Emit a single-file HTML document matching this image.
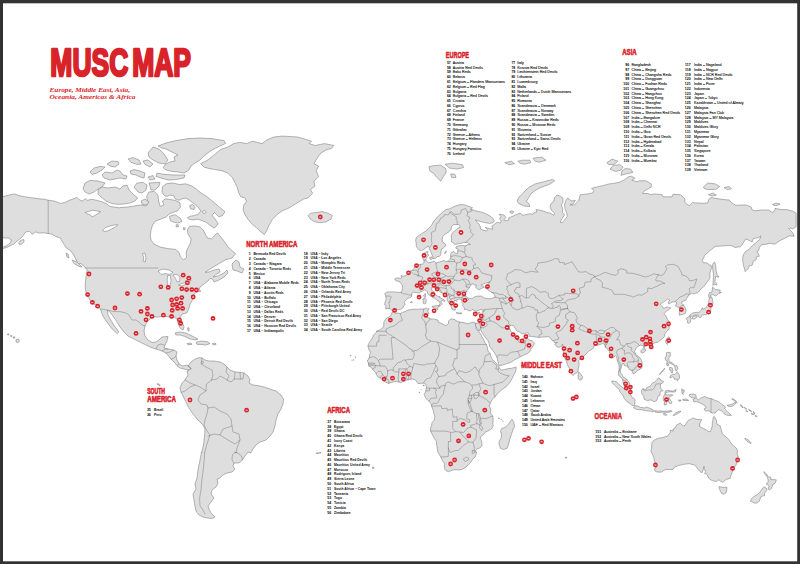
<!DOCTYPE html>
<html lang="en"><head><meta charset="utf-8"><title>MUSC MAP</title>
<style>html,body{margin:0;padding:0;background:#fff}body{width:800px;height:564px;overflow:hidden}svg{display:block}.h{font-family:"Liberation Sans",sans-serif;font-weight:bold;fill:#d9232b;stroke:#d9232b;stroke-linejoin:round}.n{font-family:"Liberation Sans",sans-serif;font-weight:bold;font-size:3.5px;fill:#000;text-anchor:end}.t{font-family:"Liberation Sans",sans-serif;font-size:3.65px;fill:#111;stroke:#111;stroke-width:.1px}.nb .t{font-weight:bold;fill:#111;font-size:3.38px;stroke:none}.land{fill:#dddedd;stroke:#707070;stroke-width:.5;stroke-linejoin:round}.bd{fill:none;stroke:#707070;stroke-width:.45;stroke-linejoin:round;stroke-linecap:round}.mk circle{fill:#d9232b}.mk rect{fill:#fbdcde}</style></head><body>
<svg width="800" height="564" viewBox="0 0 800 564">
<rect x="0" y="0" width="800" height="564" fill="#333"/>
<rect x="3" y="3.3" width="794.2" height="558" fill="#fff"/>
<defs><clipPath id="cp"><rect x="3" y="3" width="794" height="558"/></clipPath></defs>
<g clip-path="url(#cp)">
<g class="land">
<path d="M0.0,196.6 3.0,196.6 9.1,195.1 14.3,193.9 19.6,195.8 25.6,196.9 31.7,197.8 39.2,198.8 45.2,199.3 48.2,200.3 54.3,201.1 60.3,203.4 64.8,202.6 69.3,200.3 73.9,198.8 76.9,197.3 79.2,199.6 82.2,201.1 85.2,198.8 87.4,200.3 92.0,199.3 96.5,200.3 102.5,201.9 107.0,204.1 110.0,206.4 114.6,207.1 120.0,207.9 120.0,207.6 128.0,207.0 134.0,206.0 140.0,205.0 146.0,206.0 148.1,202.6 146.6,196.6 148.8,192.1 154.1,191.3 157.9,195.1 158.6,201.1 160.2,206.4 163.9,204.9 162.4,201.1 165.4,198.8 170.7,199.6 175.2,200.3 179.8,202.6 180.5,207.1 177.5,210.9 173.0,212.4 169.2,213.9 166.2,216.9 162.4,218.4 158.6,219.9 154.9,221.5 152.6,225.2 151.1,229.8 150.3,235.8 151.1,240.3 154.1,244.1 160.2,247.1 167.7,248.6 175.2,249.3 179.0,252.4 180.5,256.9 183.5,259.9 186.5,257.6 186.1,252.4 188.0,247.8 190.3,243.3 191.1,238.8 188.0,234.3 187.3,229.8 189.6,226.4 194.8,226.0 199.3,226.7 203.1,229.8 205.4,234.3 207.6,238.0 211.4,238.8 214.4,235.8 217.4,232.8 220.4,236.5 223.5,240.3 228.0,247.0 231.6,250.4 235.6,253.6 232.0,258.0 226.0,259.6 220.0,263.0 215.0,266.0 210.0,269.0 205.0,272.4 209.0,272.0 214.0,270.0 219.0,269.0 220.0,272.0 216.0,274.4 213.0,277.0 218.0,276.0 224.0,273.0 227.0,270.0 228.0,273.0 224.0,277.0 219.0,280.0 214.0,282.0 212.4,279.0 210.0,278.4 208.0,281.0 204.0,284.0 200.0,287.0 199.0,290.0 201.0,291.0 197.0,292.0 194.0,294.0 193.0,298.0 192.0,301.0 190.0,304.0 189.0,308.0 187.0,312.8 182.0,314.0 180.0,318.0 182.0,322.0 184.0,327.0 183.0,330.0 180.0,328.0 178.0,323.0 177.0,319.0 174.0,317.0 169.0,317.0 164.0,316.0 159.0,317.0 154.0,317.0 150.0,319.0 147.0,322.0 145.0,326.0 144.0,331.0 145.0,336.0 148.0,340.0 152.0,342.4 156.0,342.0 160.0,339.0 162.0,337.0 168.0,336.4 167.0,341.0 165.0,345.0 164.0,348.0 168.0,349.0 174.0,350.0 177.0,352.0 176.0,356.0 177.0,360.0 179.0,364.0 183.0,366.0 187.0,365.0 190.0,367.0 191.0,369.0 188.0,366.0 191.0,362.0 195.0,359.0 199.0,357.6 202.0,358.0 205.0,360.0 209.0,361.0 214.0,361.0 220.0,362.0 224.0,364.0 227.0,367.0 230.0,370.0 235.0,372.0 240.0,372.4 244.0,373.0 248.0,376.0 250.0,380.0 249.0,383.0 253.0,385.0 258.0,385.6 264.0,387.0 270.0,389.0 276.0,391.0 281.0,395.0 283.6,399.0 283.0,404.0 281.0,409.0 278.0,414.0 276.0,420.0 275.0,426.0 273.0,432.0 270.0,436.0 266.0,440.0 260.0,442.0 256.0,445.0 253.0,449.0 251.0,452.8 248.0,452.0 245.0,456.0 242.4,460.0 239.0,463.0 234.0,463.0 233.0,466.0 235.0,469.0 232.0,472.0 227.0,473.0 223.0,475.0 220.0,478.0 217.0,479.0 218.0,483.0 216.0,487.0 212.0,490.0 211.0,494.0 214.0,498.0 211.0,502.0 208.0,506.0 209.0,509.0 211.0,513.0 215.0,517.0 212.0,518.4 207.0,518.0 203.0,517.0 199.0,515.0 196.0,511.0 195.0,506.0 194.0,500.0 193.0,494.0 196.0,489.0 195.0,484.0 197.0,478.0 198.0,470.0 200.0,460.0 201.6,452.0 201.6,452.8 203.6,444.0 204.6,436.0 205.0,429.0 203.0,425.0 198.0,420.0 193.0,414.0 189.0,408.0 186.0,402.0 183.0,396.0 181.0,392.0 180.0,388.0 182.0,383.0 185.0,380.0 188.0,375.0 187.0,371.0 189.0,370.0 184.0,369.0 180.0,368.0 177.0,365.6 174.0,362.0 171.0,359.0 166.0,353.0 162.0,351.0 156.0,349.0 150.0,347.0 144.0,344.0 138.0,341.0 132.0,338.0 128.0,336.0 124.0,332.0 120.0,327.0 117.0,322.0 113.0,316.0 109.0,311.0 107.4,310.0 108.0,315.0 110.8,320.0 113.8,325.0 116.8,329.0 118.8,332.0 117.2,333.6 112.0,328.8 107.6,323.0 104.2,318.0 101.6,313.0 100.6,309.0 98.0,307.0 94.0,304.0 90.0,300.0 88.0,296.0 86.0,292.0 85.6,290.0 85.2,286.0 85.6,280.0 86.4,274.0 87.2,270.0 85.0,267.0 80.0,263.0 78.4,265.0 76.9,261.4 73.9,255.4 70.8,250.8 66.3,247.8 63.3,243.3 60.3,238.0 55.8,236.5 52.0,234.3 48.2,233.5 43.7,232.8 39.2,233.1 35.4,232.0 32.4,234.3 29.4,231.3 25.6,232.0 22.6,236.5 18.1,240.3 13.6,244.1 7.5,247.1 3.0,248.6 0.0,249.1 0.0,247.1 3.0,247.1 6.8,245.6 10.6,242.6 11.3,239.6 8.3,238.0 3.0,238.0 0.0,238.0Z"/>
<path d="M18.8,242.6 21.1,240.0 23.8,239.6 24.1,241.8 21.9,244.1 19.3,244.5Z"/>
<path d="M83.0,189.0 85.0,183.0 90.0,180.4 98.0,181.0 105.0,183.0 102.0,187.0 98.0,189.0 94.0,192.0 89.0,194.0 85.0,192.0Z"/>
<path d="M98.0,190.0 102.0,187.0 108.0,188.0 115.0,187.0 120.0,189.0 123.0,186.0 127.0,185.0 129.0,190.0 133.0,194.0 137.6,198.0 135.0,201.0 130.0,203.0 124.0,204.0 118.0,204.4 112.0,203.6 106.0,201.0 101.0,197.0 98.0,194.0Z"/>
<path d="M134.0,187.0 137.0,183.0 143.0,182.4 147.0,185.0 146.0,190.0 142.0,193.0 138.0,192.0Z"/>
<path d="M149.0,183.0 160.0,182.4 159.0,186.0 155.0,190.0 151.0,190.0 150.0,186.0Z"/>
<path d="M141.0,201.0 145.0,199.0 149.0,202.0 147.0,205.0 142.4,204.4Z"/>
<path d="M90.0,172.0 94.0,168.0 100.0,166.4 105.0,167.0 102.0,170.0 97.0,173.0 92.0,174.4Z"/>
<path d="M102.0,175.0 105.0,172.0 112.0,173.0 117.0,170.0 120.0,171.0 123.0,175.0 127.0,176.0 126.0,179.0 120.0,178.0 115.0,179.0 110.0,180.0 104.0,178.0Z"/>
<path d="M107.0,164.0 112.0,161.0 118.0,161.6 119.0,164.0 115.0,167.0 110.0,166.0Z"/>
<path d="M130.0,171.0 134.0,169.6 140.0,171.0 145.0,173.0 144.0,178.0 140.0,177.0 136.0,175.0 131.0,174.0Z"/>
<path d="M148.0,177.0 153.0,175.6 155.0,179.0 150.0,180.0Z"/>
<path d="M128.0,159.0 133.0,157.6 139.0,160.0 141.0,164.0 137.0,164.4 131.0,162.4Z"/>
<path d="M143.0,161.0 148.0,160.0 153.0,164.0 150.0,167.0 145.0,164.4Z"/>
<path d="M148.0,153.0 153.0,147.0 159.0,149.0 164.0,154.0 168.0,160.0 165.0,164.0 159.0,163.0 153.0,160.0 149.0,157.0Z"/>
<path d="M158.0,146.0 166.0,143.0 176.0,140.6 188.0,138.6 200.0,138.0 212.0,138.6 224.0,140.6 225.6,143.4 220.0,146.0 214.0,149.0 209.0,152.0 204.0,156.0 200.0,160.0 195.0,163.0 191.0,166.0 189.0,170.0 184.0,173.0 178.0,172.0 172.0,171.4 166.0,170.0 163.0,167.4 166.0,164.0 170.0,162.0 175.0,161.0 174.0,157.0 178.0,155.0 174.0,153.0 170.0,151.0 166.0,149.0 162.0,148.0Z"/>
<path d="M157.0,173.0 164.0,174.4 174.0,175.0 185.0,175.0 184.0,178.0 176.0,179.6 168.0,180.0 161.0,178.0 156.0,176.4Z"/>
<path d="M232.0,264.0 236.0,260.0 239.0,262.0 240.0,267.0 244.0,269.0 242.0,273.0 237.0,271.0 233.0,270.0Z"/>
<path d="M175.0,333.0 180.0,332.0 186.0,333.0 192.0,336.0 198.0,339.0 195.0,340.0 190.0,339.0 185.0,336.4 180.0,335.0 176.0,335.0Z"/>
<path d="M196.0,342.4 201.0,341.0 207.0,341.6 210.0,343.6 206.0,345.0 201.0,344.4 197.0,344.4Z"/>
<path d="M187.0,343.6 191.0,343.0 192.0,344.4 188.0,344.8Z"/>
<path d="M212.4,343.6 215.6,343.2 216.0,344.6 212.8,344.8Z"/>
<path d="M187.6,328.0 188.8,327.6 189.2,331.0 188.0,330.8Z"/>
<path d="M72.0,260.0 77.0,262.0 82.0,267.0 79.0,266.4 74.0,263.6Z"/>
<path d="M66.0,253.0 68.0,254.0 69.0,258.0 67.0,257.0Z"/>
<path d="M200.6,163.7 207.7,160.1 213.6,155.4 220.7,149.5 227.8,147.1 233.7,143.6 239.6,142.4 246.6,143.6 252.5,141.2 257.3,142.4 262.0,143.6 266.7,140.1 273.8,137.0 282.0,136.1 290.3,136.5 297.4,137.0 304.4,138.9 311.5,141.2 309.2,143.6 315.1,145.5 324.5,143.6 333.9,145.5 331.6,148.3 325.7,150.2 321.0,153.0 317.4,157.8 313.9,163.7 318.6,166.0 316.2,170.7 318.6,176.6 313.9,181.4 315.1,186.1 310.4,189.6 312.7,193.2 308.0,197.9 303.3,199.1 299.7,201.4 293.8,205.0 287.9,208.5 282.0,210.9 277.3,214.4 272.6,219.1 269.1,225.0 266.7,230.9 264.3,234.4 259.6,230.9 256.1,227.4 251.8,223.8 247.8,219.1 244.8,214.4 243.1,209.7 243.8,205.0 246.6,201.4 244.8,197.9 240.7,196.7 238.4,192.0 237.2,187.3 234.8,182.5 232.5,177.8 227.8,173.1 221.9,170.7 214.8,169.6 208.9,168.4 204.2,167.2Z"/>
<path d="M308.0,215.6 310.4,213.2 316.2,212.5 322.1,211.6 328.1,213.2 332.3,215.6 331.1,219.1 325.7,221.9 319.8,222.7 313.9,221.5 310.4,219.1Z"/>
<path d="M169.5,216.2 175.2,214.7 180.5,218.4 182.0,221.5 178.2,223.0 173.7,222.2 170.4,220.7Z"/>
<path d="M176.0,224.9 178.2,224.6 178.5,226.7 176.4,227.0Z"/>
<path d="M183.4,227.6 185.2,227.9 184.9,229.8 183.4,229.4Z"/>
<path d="M162.4,186.8 166.2,183.8 172.2,183.0 179.8,184.5 185.8,183.8 191.8,186.0 196.3,189.1 200.8,192.8 206.9,196.6 211.4,200.3 215.9,204.1 220.4,207.9 225.0,211.7 222.7,215.4 218.9,216.9 216.7,214.7 214.4,212.4 212.2,215.4 215.2,219.2 218.2,223.7 214.4,228.2 209.9,225.2 206.1,222.2 202.4,220.7 197.8,219.2 193.3,219.9 189.6,219.5 187.3,217.7 190.3,216.2 194.8,215.4 198.6,213.9 200.8,210.9 198.6,207.9 195.6,204.9 192.6,202.6 189.6,200.3 185.8,198.1 182.0,198.8 179.0,200.3 175.2,198.8 173.7,195.8 169.9,195.1 166.9,196.6 163.9,195.1 162.0,192.1Z"/>
<path d="M189.6,205.6 192.6,204.6 195.1,206.8 194.1,209.4 190.6,208.9Z"/>
<path d="M393.4,311.1 391.3,310.1 389.8,308.4 385.7,308.9 385.9,305.4 384.4,304.4 385.7,300.8 386.1,298.2 385.7,295.9 384.8,293.5 387.2,291.9 389.8,291.9 392.6,291.9 396.8,292.2 401.1,292.5 402.0,290.9 402.4,286.9 402.4,285.0 400.4,283.1 399.6,281.7 395.7,280.6 394.6,278.9 397.4,277.8 400.7,278.4 401.5,278.1 401.1,275.3 402.4,276.1 405.2,275.8 408.2,274.1 409.1,271.6 412.2,270.4 413.7,268.7 415.2,266.1 416.7,264.9 420.0,264.6 422.4,264.0 423.7,263.1 424.3,261.6 423.7,259.8 422.6,258.0 422.6,254.9 423.7,253.4 426.5,251.8 428.0,251.5 427.6,253.7 428.6,255.6 427.1,256.5 426.3,258.3 425.8,260.1 426.7,261.3 428.6,262.8 431.3,262.2 434.3,261.0 436.0,263.1 439.7,261.9 444.1,260.4 445.6,261.6 448.0,261.3 450.6,258.9 450.8,256.5 450.6,254.3 451.9,252.2 454.0,251.5 455.3,253.4 457.3,253.7 457.9,250.9 458.2,249.3 456.0,248.4 456.0,246.8 458.8,245.8 462.5,245.5 465.8,245.8 467.9,244.5 470.5,244.5 467.9,242.9 465.8,242.2 462.5,242.9 459.2,243.6 454.9,244.5 453.2,242.9 451.2,241.6 451.6,238.9 451.2,235.9 451.9,233.6 454.9,230.8 458.2,228.0 460.1,227.3 459.9,225.5 458.2,224.5 453.8,224.5 451.6,226.2 451.2,229.1 449.1,231.8 445.1,234.2 442.8,236.3 442.3,238.9 442.3,241.9 445.1,243.6 446.0,245.5 443.6,247.7 441.2,249.3 441.0,252.5 440.6,254.9 439.3,256.5 436.9,256.5 435.8,258.3 433.2,258.6 432.8,256.5 431.7,254.0 430.8,251.5 429.3,249.0 429.1,247.1 428.0,245.8 427.8,246.8 426.1,247.4 423.9,249.3 421.3,250.6 419.3,249.9 417.1,247.7 416.3,245.8 416.1,242.9 415.6,240.3 416.3,237.6 418.7,235.6 421.3,233.9 423.9,232.2 426.3,230.8 428.9,228.0 431.5,225.5 432.8,222.7 434.5,220.1 437.1,217.6 438.6,215.7 440.8,213.8 443.4,211.5 446.2,209.6 449.5,208.8 452.7,207.3 456.0,205.7 459.2,204.9 461.0,204.5 464.7,204.9 466.9,205.7 470.1,206.9 472.5,207.7 470.1,209.6 473.4,210.0 476.6,211.1 480.9,211.9 485.3,213.4 489.6,215.7 492.9,218.3 494.4,220.8 492.9,222.7 489.6,223.4 485.3,222.7 480.9,221.6 477.7,220.8 475.5,219.8 476.6,221.9 478.8,223.8 480.3,226.6 480.5,229.1 483.1,230.1 486.4,231.1 487.5,229.8 485.3,227.3 489.6,228.7 492.9,229.1 491.8,226.2 495.1,223.8 497.2,222.3 500.5,223.0 501.1,220.8 499.8,219.0 500.9,216.4 499.0,214.2 502.6,214.6 504.8,215.7 505.9,217.6 503.7,220.1 505.9,220.8 508.7,220.1 508.7,217.9 511.3,216.8 515.7,214.9 520.0,213.1 522.8,215.3 525.4,214.6 529.8,213.8 533.0,214.2 534.1,212.7 536.9,211.9 535.9,209.6 539.5,210.0 545.0,211.5 547.1,212.7 550.4,213.1 553.6,215.3 554.7,213.1 551.5,210.4 550.0,206.9 551.0,203.7 553.6,201.3 554.7,197.6 556.9,195.1 560.1,196.0 563.0,198.0 562.8,202.9 561.2,204.9 562.8,208.8 562.3,212.7 564.7,214.6 561.2,220.1 560.1,222.3 562.3,222.7 564.5,220.1 567.3,216.4 566.7,212.7 565.1,208.8 564.5,204.9 565.6,200.9 567.8,198.0 571.0,200.9 575.4,200.5 573.2,203.7 569.9,204.9 574.3,204.9 578.6,200.9 579.7,196.8 580.3,194.7 587.3,193.9 592.7,193.0 593.8,190.5 591.6,188.3 597.0,187.0 602.5,185.7 609.0,183.9 613.3,183.5 619.8,182.1 624.2,179.9 628.5,176.7 631.3,176.2 635.0,178.1 631.8,180.3 637.2,181.7 639.4,180.8 645.9,180.8 651.3,183.9 651.3,187.0 643.7,191.3 642.6,193.5 648.0,193.5 650.2,194.7 654.5,193.9 662.1,194.7 663.2,196.8 671.9,196.8 673.0,194.3 680.6,194.7 684.9,198.9 684.9,202.9 689.3,205.7 692.5,202.5 695.8,202.9 702.3,203.3 707.7,202.9 708.8,199.3 711.0,197.6 721.8,199.3 729.4,200.1 731.6,202.9 735.9,205.3 745.7,204.9 751.1,206.9 752.2,210.0 755.5,210.8 760.9,210.0 768.5,210.0 772.8,212.7 775.0,209.6 775.0,208.4 781.5,209.6 786.9,209.6 792.4,211.1 795.6,212.7 796.2,213.1 796.2,226.6 794.5,228.0 792.4,228.7 790.2,228.0 788.7,228.7 790.2,230.1 793.0,233.2 794.1,236.3 789.1,235.9 784.8,238.3 779.3,240.9 775.0,244.2 769.6,243.2 765.2,244.5 762.0,244.5 759.4,247.4 758.7,250.6 757.2,251.2 759.4,256.2 756.5,256.8 756.1,259.8 753.3,261.3 752.2,265.2 749.2,265.8 748.3,268.7 745.0,271.6 744.6,268.7 743.5,265.8 742.6,259.8 743.1,255.2 745.7,251.2 748.9,249.6 752.2,245.8 755.5,243.2 759.8,239.3 760.9,235.9 758.7,237.6 753.3,238.6 752.2,241.9 745.7,238.9 741.4,245.8 740.3,246.8 734.8,247.4 732.2,245.8 728.3,245.5 720.7,246.1 715.3,246.4 709.9,250.6 704.9,255.2 702.3,260.4 703.4,262.8 706.6,262.8 709.5,264.9 711.0,265.2 711.6,267.8 709.9,273.0 709.9,278.6 706.6,282.8 704.9,285.5 701.2,288.7 698.4,292.2 693.6,294.0 691.4,293.3 688.6,295.4 686.5,298.7 686.0,300.0 681.9,301.8 681.5,303.3 683.6,305.1 685.8,308.9 686.0,311.4 685.4,313.3 682.1,314.6 679.3,315.3 679.3,312.6 679.7,309.9 679.7,307.4 676.7,306.9 675.6,306.1 676.9,302.8 675.0,301.6 671.9,302.1 668.9,304.1 668.2,302.6 669.7,300.0 667.6,299.0 664.3,301.6 661.1,303.3 660.4,304.9 662.8,306.9 663.7,308.4 666.9,306.9 670.8,307.9 669.7,309.1 666.5,311.1 663.9,313.8 665.8,315.6 667.4,319.2 669.5,321.9 669.5,323.8 667.1,325.2 669.3,326.1 668.9,329.5 666.9,330.9 664.8,334.1 664.5,336.5 662.6,338.5 659.5,340.8 657.8,342.2 654.5,342.9 652.8,343.8 651.3,344.0 649.1,344.9 645.9,345.6 644.6,346.3 644.1,348.4 643.3,345.9 640.4,345.2 639.4,345.6 636.8,347.2 634.8,350.6 634.4,351.7 636.1,354.4 638.3,356.6 640.0,357.8 641.5,360.2 642.2,363.5 642.2,366.8 641.5,368.4 638.9,369.9 636.8,370.6 636.1,372.3 633.3,374.1 632.4,371.7 632.9,370.6 631.5,370.4 629.6,369.9 628.3,367.5 626.8,366.2 624.2,365.3 624.0,363.8 623.1,363.5 622.0,364.0 621.8,365.7 621.1,367.9 620.3,370.4 620.5,372.8 622.0,374.5 623.1,377.1 625.2,378.2 626.8,379.5 628.5,381.1 629.4,383.0 629.4,385.4 629.6,387.4 631.1,390.0 629.6,390.2 626.8,388.2 624.8,386.7 623.5,384.3 622.9,381.1 622.6,379.1 621.4,378.2 619.8,376.0 618.3,375.2 618.5,373.0 619.0,370.1 619.2,367.3 618.8,364.6 617.9,362.4 617.0,359.5 616.8,356.9 615.3,355.8 612.2,358.2 610.1,358.0 610.1,354.6 609.4,351.7 608.1,349.5 606.6,348.4 605.3,346.8 604.6,344.5 602.9,343.4 601.6,344.0 599.2,344.7 597.0,345.2 594.2,345.6 593.6,347.9 592.3,349.2 589.7,350.4 587.7,352.4 585.8,354.2 583.6,356.6 581.4,357.3 580.5,358.4 579.0,360.2 578.8,362.4 579.2,364.4 578.8,366.8 578.2,369.0 578.2,370.6 576.9,372.8 574.7,373.6 573.3,375.4 571.9,374.3 570.6,371.4 569.5,368.6 568.2,366.4 567.3,364.6 566.5,361.3 565.4,359.3 564.1,355.8 563.2,351.5 562.8,349.0 563.0,346.3 562.5,344.0 561.5,346.3 559.1,347.4 556.9,346.8 554.7,344.0 557.5,342.4 554.7,342.7 553.6,341.1 551.5,339.9 550.4,338.1 549.3,336.7 546.0,336.9 542.8,337.1 538.7,337.4 535.2,336.9 532.6,336.5 529.3,336.2 528.7,333.4 527.2,332.7 524.4,333.7 522.2,333.9 519.1,331.8 516.8,330.9 515.2,328.5 513.9,325.9 511.3,325.0 510.5,325.9 509.2,326.4 508.9,327.6 510.0,329.5 511.1,331.6 512.6,333.0 513.7,334.1 513.9,336.2 515.2,338.1 515.2,336.2 516.1,335.1 517.0,336.9 516.8,338.5 517.4,339.9 519.1,339.5 521.1,339.7 523.0,339.0 525.0,336.9 526.7,335.3 527.4,334.4 527.4,336.2 527.4,337.8 528.7,339.9 532.2,340.8 534.8,343.4 533.0,345.9 531.9,348.1 530.4,348.6 530.2,351.3 527.8,353.3 525.0,354.6 522.2,355.8 518.3,358.0 513.9,360.2 510.7,362.4 506.3,363.8 502.6,365.1 499.4,365.5 498.5,364.0 497.9,361.3 497.4,359.1 496.8,356.9 495.5,354.4 493.8,351.9 491.6,349.0 489.6,346.3 489.2,343.6 487.9,340.6 485.7,337.8 484.2,335.8 482.0,332.3 480.9,330.4 480.7,327.1 479.9,329.5 479.2,331.1 477.9,329.7 476.6,327.8 475.7,326.1 475.1,323.1 478.4,323.3 479.4,322.6 480.5,320.9 480.9,318.9 482.0,316.5 482.9,313.8 482.7,311.6 483.6,309.9 482.0,309.9 480.1,309.4 477.9,310.9 475.5,311.1 472.3,309.4 471.2,310.6 469.0,310.9 466.6,309.4 464.5,309.6 464.2,307.4 462.5,305.6 463.2,303.9 461.9,302.6 461.9,301.0 461.4,299.5 459.2,299.0 457.1,299.5 456.9,301.3 454.7,300.0 454.0,301.8 455.3,303.6 454.7,304.4 457.1,306.4 455.1,307.6 455.3,310.1 453.6,310.1 452.1,309.4 451.2,306.9 450.8,305.4 449.9,303.9 448.4,302.1 447.1,300.0 447.3,297.4 446.7,296.1 445.1,295.1 443.0,293.5 440.6,292.2 438.0,290.3 436.5,287.7 435.2,288.7 434.5,286.6 431.9,287.1 431.7,289.6 432.3,290.9 434.5,292.2 435.8,295.1 438.0,296.4 440.1,296.7 439.7,297.7 441.9,298.7 444.1,299.8 445.1,301.0 444.1,301.6 442.3,300.3 441.0,301.3 441.0,302.3 442.3,303.9 440.8,305.4 439.1,306.6 439.3,304.9 440.1,303.3 439.1,301.3 437.3,300.5 436.0,299.2 434.7,298.2 433.0,297.9 431.5,296.7 429.9,295.4 428.9,294.8 427.8,293.5 427.4,291.9 426.3,290.6 424.3,289.8 422.8,290.9 421.3,291.4 419.3,293.0 416.7,292.7 414.8,292.5 413.5,292.2 411.7,293.5 411.7,295.1 411.9,296.4 409.8,297.7 407.2,298.7 406.3,299.8 404.8,301.6 404.1,302.8 405.4,304.4 403.9,305.6 403.3,307.4 400.9,309.1 399.8,309.4 397.4,309.6 395.4,309.6Z"/>
<path d="M392.2,311.9 393.5,311.6 395.2,313.3 398.5,313.1 400.2,313.6 402.4,312.4 405.0,311.6 407.8,310.1 411.5,309.4 414.8,309.1 416.9,309.4 420.2,308.9 423.7,309.1 426.3,308.1 427.4,309.1 429.1,308.6 428.0,310.4 428.0,311.9 429.1,313.3 428.2,314.6 426.9,315.6 426.9,316.5 429.1,318.2 432.1,319.2 433.6,318.9 438.0,320.2 438.4,322.3 441.0,323.1 444.1,325.0 446.7,325.2 448.4,323.8 448.6,320.9 450.1,319.4 452.1,318.9 455.1,319.7 455.6,320.6 457.1,321.1 459.7,322.1 464.0,322.6 467.9,323.8 469.9,323.1 472.3,322.1 474.4,322.6 475.1,323.1 475.7,326.1 476.0,328.5 478.8,331.6 480.5,333.9 482.2,337.1 483.8,339.9 484.6,342.2 486.4,344.5 487.2,346.8 487.7,349.9 488.6,351.9 490.1,353.5 491.6,358.4 493.1,360.2 495.1,361.8 497.2,364.4 498.7,365.7 499.0,367.7 499.4,368.4 501.6,370.1 504.8,369.5 508.1,368.6 511.3,368.4 515.2,367.1 516.3,367.3 515.9,370.1 515.2,372.3 513.5,375.6 511.3,380.0 509.2,383.2 505.9,386.9 503.3,388.7 500.5,390.8 497.2,393.9 495.1,396.7 493.8,398.0 492.2,399.5 491.1,401.7 490.1,403.9 489.2,406.0 490.3,407.8 490.7,410.4 490.3,412.6 491.8,415.4 492.9,416.1 493.1,420.3 492.9,423.6 493.3,425.8 491.6,428.7 488.6,430.7 485.3,432.2 483.6,434.5 480.7,436.5 480.3,438.3 481.6,441.1 482.0,443.8 481.8,446.1 479.9,447.9 476.6,449.1 475.7,450.5 476.4,452.8 475.5,456.5 474.0,457.7 472.3,459.9 470.5,462.5 467.9,465.4 465.5,467.3 462.5,469.2 460.8,469.7 458.2,470.0 454.9,469.7 452.7,470.0 448.4,471.7 446.0,470.7 444.9,469.5 444.7,466.8 444.1,466.6 444.7,463.7 442.5,460.8 440.8,456.8 439.1,454.2 437.8,452.1 437.3,448.4 436.5,443.8 436.5,441.5 434.1,438.1 432.1,434.1 430.6,430.9 430.6,428.0 431.5,425.8 432.1,422.5 434.3,420.0 434.9,417.0 434.1,414.3 433.6,412.1 432.8,409.3 431.7,406.2 431.5,405.4 431.0,403.9 430.6,403.0 429.1,401.5 426.7,399.1 425.2,397.1 424.1,394.5 425.2,392.6 425.6,392.1 425.8,390.8 426.3,388.0 426.3,386.5 426.1,384.5 424.3,383.2 423.0,383.2 420.2,383.4 418.2,383.7 416.7,381.7 415.0,379.5 412.4,379.1 410.2,379.3 407.6,379.8 404.6,381.1 402.8,381.7 400.7,382.6 398.3,381.9 396.3,381.5 393.1,381.9 388.7,383.4 385.5,382.1 381.6,379.3 380.1,378.0 377.9,376.9 376.4,374.5 376.1,373.4 375.3,372.3 373.3,370.1 372.4,369.0 371.1,367.1 368.8,366.0 368.5,363.8 368.1,362.0 367.0,360.9 367.9,360.2 369.2,358.0 369.6,354.6 370.3,353.3 369.9,350.4 369.2,350.4 368.1,346.8 368.1,344.9 369.6,342.2 370.5,340.6 372.4,338.1 373.5,335.1 376.1,332.5 377.0,330.9 380.1,329.9 382.9,327.6 383.9,325.0 383.7,322.6 384.8,320.4 386.6,318.0 388.5,317.3 390.2,316.3 391.6,313.8Z"/>
<path d="M512.0,419.2 513.9,422.5 514.6,426.9 513.1,429.1 512.4,431.4 511.3,434.7 510.2,438.1 508.7,443.8 507.2,448.2 503.7,449.5 500.5,448.4 499.2,444.9 499.0,441.5 501.1,438.1 501.6,434.7 500.5,431.4 501.6,428.5 504.8,427.6 507.0,425.8 509.2,423.1 510.9,420.5Z"/>
<path d="M578.6,371.7 580.5,373.6 582.5,376.7 582.1,379.1 579.9,380.2 578.4,378.9 578.0,375.6 578.4,373.4Z"/>
<path d="M709.5,297.7 712.1,297.7 713.1,302.6 712.1,305.6 711.0,307.6 710.5,311.4 710.8,312.1 708.8,313.8 708.1,313.1 706.2,314.6 704.9,314.8 702.3,314.8 701.9,315.6 700.8,317.5 699.7,317.5 698.2,316.5 698.4,315.3 695.8,314.8 693.6,315.6 692.1,316.3 689.3,316.3 689.9,315.1 692.5,313.1 694.3,312.6 696.9,312.4 699.0,312.4 700.1,311.4 701.6,309.4 702.3,307.6 702.9,309.4 705.5,308.1 706.6,306.4 708.4,303.9 708.8,301.3 708.8,299.8Z"/>
<path d="M708.6,294.8 709.5,292.7 711.6,292.7 712.5,289.6 712.5,287.1 715.3,289.6 720.3,290.1 719.6,292.7 721.4,292.5 718.6,293.5 716.0,296.1 712.7,294.6 711.0,295.1 709.9,295.6 711.4,296.7 709.9,297.4 708.8,297.2Z"/>
<path d="M689.0,316.5 690.8,317.3 691.2,318.9 690.1,322.6 688.6,323.3 687.5,322.8 687.5,320.4 686.7,319.4 686.5,318.0 688.0,317.3Z"/>
<path d="M697.1,315.8 697.3,316.8 696.2,318.0 693.6,319.2 692.3,318.7 692.3,317.3 693.6,316.3 695.8,315.6Z"/>
<path d="M714.7,261.9 715.7,265.8 716.0,270.1 717.0,274.4 719.0,277.2 715.7,276.4 714.9,281.4 716.4,283.3 716.4,285.2 714.2,283.9 712.9,285.5 713.1,281.4 713.4,277.2 713.4,273.0 712.7,269.3 712.5,264.9 713.6,262.8Z"/>
<path d="M668.6,336.9 669.7,337.6 668.9,339.9 667.4,344.5 665.8,342.7 665.6,341.1 666.7,339.0 667.6,337.6Z"/>
<path d="M640.9,350.6 642.6,349.0 645.2,348.8 645.9,349.9 644.8,351.7 642.8,353.1 640.9,352.4Z"/>
<path d="M666.7,352.4 670.2,352.4 670.4,355.8 668.9,358.0 668.9,360.2 669.7,362.0 671.9,362.4 674.1,364.6 674.3,365.5 672.6,364.6 670.8,363.5 668.6,363.1 666.7,362.4 667.4,361.1 665.6,360.2 665.2,357.3 666.3,356.6 666.3,354.6Z"/>
<path d="M677.3,371.7 679.1,374.5 679.7,377.1 678.9,379.3 677.3,380.8 676.9,378.9 674.5,379.5 674.1,377.8 672.6,376.7 670.0,378.0 670.4,375.6 672.6,374.3 674.7,374.5 675.8,373.4Z"/>
<path d="M674.7,365.7 676.9,365.7 677.8,368.6 676.7,370.8 675.8,370.8 675.0,368.4Z"/>
<path d="M669.7,367.3 672.1,367.9 673.0,370.1 672.3,373.0 671.0,372.3 670.8,370.1 669.7,370.1 669.5,368.6Z"/>
<path d="M659.3,374.7 662.1,372.1 664.3,369.5 664.5,368.2 663.7,369.5 661.5,371.7 659.3,374.3Z"/>
<path d="M666.3,363.5 668.4,364.0 668.2,366.0 667.1,365.5Z"/>
<path d="M642.8,388.7 645.9,389.7 646.7,387.6 650.2,386.1 652.4,383.2 654.5,382.1 656.7,380.0 658.5,377.8 660.4,379.1 660.4,380.2 663.7,381.5 662.4,383.2 660.6,383.9 660.4,386.5 661.1,388.7 663.2,390.8 660.8,391.3 660.0,393.0 660.0,395.2 658.0,396.3 657.4,398.4 656.7,400.6 653.9,401.9 652.4,400.4 650.2,399.9 647.6,400.6 644.1,399.3 643.7,396.3 642.0,394.1 641.5,392.4 641.5,390.4Z"/>
<path d="M611.8,380.8 616.6,381.7 619.2,384.8 622.6,387.6 625.2,389.1 628.5,391.5 630.2,394.1 631.8,396.9 635.0,399.5 634.8,402.8 634.6,405.6 632.0,405.6 630.5,403.9 627.0,401.7 624.2,398.4 622.9,395.2 620.0,391.9 619.2,389.3 617.0,387.6 614.4,385.0 612.0,382.6Z"/>
<path d="M633.3,407.8 635.2,405.8 637.2,405.8 640.4,407.3 644.8,408.0 645.9,406.9 649.3,408.0 653.0,409.7 653.5,411.9 650.2,411.1 645.9,410.8 641.5,409.7 638.3,409.7 635.9,409.1 633.9,408.0Z"/>
<path d="M654.5,410.6 657.8,411.1 661.1,410.8 663.2,411.3 666.5,411.1 671.5,410.8 671.9,411.5 667.6,412.4 663.2,412.1 658.9,412.6 655.0,412.1Z"/>
<path d="M673.0,415.4 675.2,413.2 678.4,411.5 681.0,411.3 679.5,412.6 676.2,414.3 674.1,415.4Z"/>
<path d="M663.2,413.7 665.4,413.5 667.1,414.8 665.4,415.4 663.7,414.6Z"/>
<path d="M665.0,391.3 667.1,390.2 669.7,390.8 673.0,391.1 676.2,389.5 675.2,392.1 671.9,391.9 668.6,391.9 666.0,392.4 665.6,394.9 668.6,394.9 672.6,394.7 672.8,395.2 669.7,396.7 668.6,397.3 670.4,400.2 671.9,401.7 671.5,403.4 669.7,403.4 668.6,401.7 667.6,399.1 666.3,400.6 666.3,404.9 664.3,404.9 664.3,401.7 663.0,399.5 663.7,396.3 665.0,393.4Z"/>
<path d="M681.9,388.7 682.8,390.8 684.1,389.7 684.3,392.1 682.5,393.0 683.4,394.5 682.1,393.6 681.7,390.8Z"/>
<path d="M678.4,399.9 681.0,400.2 681.0,401.0 678.9,401.2Z"/>
<path d="M682.8,399.3 686.0,399.1 688.8,400.4 686.0,400.6 683.2,400.4Z"/>
<path d="M689.3,394.7 692.5,393.9 695.8,394.7 696.2,397.3 698.0,400.2 701.2,397.8 704.5,396.5 708.8,398.2 711.0,398.6 715.3,400.4 718.6,401.5 721.4,403.9 724.0,405.8 725.7,407.3 724.4,408.2 726.2,410.4 728.3,412.6 731.6,415.4 729.4,415.4 726.2,415.0 724.0,413.7 721.8,410.8 718.6,409.7 716.4,411.1 715.3,413.0 712.1,413.0 708.8,410.8 705.5,411.1 704.0,408.9 706.2,407.8 704.5,405.2 700.1,403.0 696.9,401.7 693.6,401.7 693.2,399.5 695.4,398.0 692.1,398.0 689.3,396.0Z"/>
<path d="M726.8,405.4 729.4,404.9 732.7,403.9 735.3,402.1 735.5,403.9 732.7,406.0 729.4,406.7Z"/>
<path d="M652.8,441.5 653.7,440.4 658.2,438.3 662.4,437.6 667.6,436.1 670.2,432.5 670.4,430.2 673.2,431.1 673.0,429.1 675.2,428.0 676.7,424.9 680.2,423.1 682.8,425.4 683.2,425.8 684.9,425.6 686.2,423.6 687.8,420.9 688.8,420.0 691.4,419.2 692.7,417.8 694.7,418.7 698.0,419.6 700.1,419.2 701.9,419.8 700.1,422.0 699.7,425.4 699.0,425.8 701.9,427.8 703.8,428.5 706.6,430.2 708.8,431.8 710.5,431.4 712.1,426.9 712.3,423.6 712.7,420.5 713.4,417.0 714.2,416.3 716.4,420.3 717.0,424.2 720.3,425.8 720.3,426.9 721.4,430.0 722.2,433.1 723.6,435.2 726.8,437.4 728.8,439.7 730.5,442.2 732.2,444.7 734.6,446.5 737.0,449.1 737.4,450.7 737.2,454.0 738.3,457.0 737.0,461.5 735.9,465.4 734.4,467.1 733.3,469.5 732.0,472.7 730.5,476.1 730.3,478.4 726.2,479.4 722.7,482.4 719.6,480.6 719.0,479.6 716.4,481.6 712.3,480.6 709.9,479.4 708.1,476.9 706.6,473.9 704.7,473.6 705.5,471.7 704.2,468.5 704.0,466.3 703.4,469.2 702.1,472.7 700.1,471.7 698.4,469.7 696.2,466.8 694.7,465.1 689.7,463.7 684.9,464.1 678.4,465.6 674.1,467.3 673.0,469.5 669.5,469.5 665.4,469.5 661.1,472.2 656.7,471.9 654.8,470.7 654.5,468.7 656.1,468.0 656.1,464.9 654.5,461.3 653.7,457.2 652.4,454.2 650.9,451.2 651.5,448.2 651.7,444.9 652.0,442.6Z"/>
<path d="M719.0,486.5 722.9,487.5 726.8,487.0 726.8,489.9 725.9,493.0 723.8,494.1 721.8,493.8 720.1,490.4 719.0,487.8Z"/>
<path d="M763.8,471.7 766.4,473.9 768.3,476.9 770.7,477.1 770.9,479.6 774.8,479.6 776.4,479.9 775.0,483.4 772.9,484.4 771.6,488.3 769.4,489.8 768.1,489.1 769.0,486.2 768.8,485.4 766.1,483.9 767.9,482.6 768.3,480.1 767.2,477.1 764.6,473.7Z"/>
<path d="M763.8,487.0 766.1,488.0 767.0,488.8 766.6,490.6 764.4,493.5 764.6,495.6 762.2,496.1 760.7,496.9 759.4,501.2 756.8,503.1 754.4,503.1 752.5,502.0 750.3,501.2 751.4,498.8 753.6,496.7 756.8,494.8 759.6,492.7 761.1,490.3 762.7,488.0Z"/>
<path d="M744.9,438.2 748.1,439.8 751.4,443.0 750.3,443.4 747.0,441.4 744.9,439.1Z"/>
<path d="M428.9,166.7 433.2,165.7 440.8,165.2 445.8,168.6 446.2,172.4 443.0,177.1 440.8,181.2 436.5,177.1 434.3,173.9 429.9,171.0Z"/>
<path d="M445.1,164.2 452.7,163.2 462.5,164.7 463.6,167.6 457.1,169.1 449.5,168.1Z"/>
<path d="M450.6,173.9 454.9,174.3 456.0,177.6 451.6,177.6Z"/>
<path d="M504.8,162.7 511.3,161.2 514.6,163.7 509.2,164.7Z"/>
<path d="M517.8,161.2 522.2,160.2 529.8,160.2 530.9,162.7 524.4,164.2 520.0,163.2Z"/>
<path d="M533.0,158.1 541.7,157.1 546.0,160.2 539.5,162.2 535.2,161.2Z"/>
<path d="M529.8,206.5 524.4,206.1 518.9,203.7 517.0,200.9 518.9,197.2 522.2,194.3 525.4,190.5 528.7,187.5 535.2,183.9 543.9,181.7 552.6,179.4 554.7,180.8 549.3,184.4 540.6,187.5 535.2,190.5 530.9,193.9 528.7,197.6 526.5,201.3 529.1,204.1Z"/>
<path d="M620.9,175.3 626.3,173.9 632.9,172.4 630.7,169.1 625.2,168.6 622.0,171.0Z"/>
<path d="M610.1,169.1 613.3,165.2 619.8,164.7 623.1,167.1 620.9,170.1 615.5,171.5Z"/>
<path d="M606.8,162.7 612.2,159.1 617.7,161.2 614.4,164.2 609.0,164.7Z"/>
<path d="M703.4,187.0 707.7,183.0 715.3,183.9 719.6,186.6 716.4,189.2 708.8,189.6 704.5,188.8Z"/>
<path d="M724.0,187.5 729.4,186.6 731.6,188.8 727.2,189.6Z"/>
<path d="M708.4,194.7 713.1,193.0 716.4,195.1 712.1,196.0Z"/>
<path d="M772.4,204.5 776.1,203.1 780.0,204.1 777.1,205.5 773.5,205.3Z"/>
<path d="M475.1,313.8 476.6,312.9 480.1,312.1 478.8,313.8 476.6,314.8Z"/>
<path d="M456.0,312.6 459.2,312.9 462.1,313.1 460.3,313.8 457.1,313.6Z"/>
<path d="M431.9,306.6 433.9,305.9 438.9,305.6 437.8,307.9 437.8,309.6 435.4,308.6 433.0,307.4Z"/>
<path d="M422.8,299.0 425.0,298.2 426.3,300.0 425.8,303.3 424.5,303.9 423.2,303.3 423.2,300.5Z"/>
<path d="M423.7,295.1 425.4,293.5 425.6,296.1 425.0,297.7 423.9,296.4Z"/>
<path d="M410.2,302.3 411.7,301.4 412.4,302.1 411.5,303.1Z"/>
<path d="M429.3,257.7 432.1,256.8 432.3,258.9 430.6,259.8Z"/>
<path d="M444.5,253.7 446.0,250.9 446.2,252.5Z"/>
<path d="M732.0,398.6 734.4,399.5 736.6,401.5 737.2,403.2 736.1,402.3 734.0,400.4 731.8,399.3Z"/>
<path d="M740.5,404.7 742.0,405.6 743.3,407.8 741.8,407.3 740.7,405.8Z"/>
<path d="M744.4,407.3 746.8,408.9 746.3,409.3 744.4,408.0Z"/>
<path d="M746.1,410.4 747.9,411.5 747.2,411.9 745.9,411.1Z"/>
<path d="M748.7,409.3 751.8,411.3 751.3,411.7 748.7,410.0Z"/>
<path d="M751.3,413.2 753.9,414.1 753.5,414.8 751.3,414.1Z"/>
<path d="M753.5,411.3 755.0,413.7 754.4,413.9 753.3,411.9Z"/>
<path d="M755.0,415.4 757.2,416.3 756.5,416.7 755.0,416.1Z"/>
<path d="M423.4,385.0 424.3,385.0 424.1,385.8 423.4,385.8Z"/>
<path d="M419.1,392.1 419.8,392.4 419.3,393.0Z"/>
<path d="M420.8,389.3 421.3,389.5 421.1,389.7Z"/>
<path d="M509.8,211.5 512.0,210.8 513.9,211.9 512.6,213.4 510.5,213.1Z"/>
<path d="M498.7,417.8 499.4,418.1 499.2,418.9 498.7,418.7Z"/>
<path d="M500.9,419.4 501.6,419.6 501.4,420.0Z"/>
<path d="M502.6,420.7 503.3,420.9 502.9,421.4Z"/>
<path d="M350.1,355.3 350.8,355.3 350.8,355.9 350.1,355.8Z"/>
<path d="M355.1,356.1 355.4,356.2 355.3,356.6Z"/>
<path d="M355.2,357.5 355.7,357.6 355.5,358.1Z"/>
<path d="M353.5,359.5 354.1,360.0 353.8,360.4 353.4,360.1Z"/>
<path d="M351.8,360.2 352.3,360.3 352.1,360.6Z"/>
<path d="M520.9,365.5 523.0,365.5 522.2,366.2Z"/>
<path d="M16.0,339.5 18.5,339.0 19.5,341.0 18.0,342.8 16.0,342.0Z"/>
<path d="M13.0,337.0 14.6,336.8 15.0,338.0 13.4,338.2Z"/>
<path d="M10.5,335.5 11.8,335.4 12.0,336.4 10.8,336.5Z"/>
<path d="M7.5,334.0 8.8,333.8 9.0,335.0 7.8,335.0Z"/>
<path d="M316.4,452.8 318.6,452.8 318.6,453.6 316.4,453.6Z"/>
<path d="M319.6,452.3 320.8,452.3 320.8,453.1 319.6,453.1Z"/>
<path d="M372.4,467.3 374.0,467.3 374.0,468.3 372.4,468.3Z"/>
<path d="M565.3,457.2 566.7,457.2 566.7,458.1 565.3,458.1Z"/>
<path d="M157.3,383.7 158.7,383.7 158.7,384.7 157.3,384.7Z"/>
<path d="M159.1,384.8 160.1,384.8 160.1,385.6 159.1,385.6Z"/>
</g>
<g class="land" style="fill:#fff">
<path d="M85.2,212.4 88.9,211.4 92.7,210.2 96.5,210.9 100.7,211.7 98.0,213.5 95.0,215.4 92.0,216.9 90.5,215.0 87.4,213.9Z"/>
<path d="M102.5,230.5 105.5,227.5 110.0,226.0 114.6,224.9 117.9,224.9 115.3,227.0 111.6,229.0 107.8,230.9 104.8,231.6Z"/>
<path d="M158.0,271.0 163.0,269.0 169.0,270.0 173.0,272.4 170.0,274.4 165.0,273.6 161.0,274.4Z"/>
<path d="M167.6,275.6 170.4,275.6 171.0,281.0 170.0,286.0 167.6,285.6 167.2,280.0Z"/>
<path d="M173.0,275.0 177.0,274.4 180.0,277.0 179.6,281.6 177.0,282.0 175.6,278.4Z"/>
<path d="M178.4,285.0 182.0,283.6 186.0,282.4 185.6,284.4 181.6,286.0Z"/>
<path d="M185.0,281.0 189.0,279.6 191.2,280.4 188.0,282.0Z"/>
<path d="M142.4,253.6 144.8,253.0 146.0,258.0 145.2,262.0 143.2,261.0 143.6,257.0Z"/>
<path d="M201.6,361.6 203.0,361.2 203.4,363.2 202.0,363.6Z"/>
<path d="M202.4,211.4 204.6,210.6 206.3,212.0 205.1,213.3 203.0,213.0Z"/>
<path d="M468.1,298.2 465.8,296.1 464.7,294.8 465.5,293.0 467.1,290.3 469.4,287.7 471.6,284.1 473.4,283.9 474.4,285.0 476.6,285.2 475.5,287.1 477.7,289.3 478.8,289.8 481.8,288.2 484.2,287.1 480.9,285.0 484.2,283.6 487.5,282.5 490.3,282.2 488.1,284.1 486.8,286.3 484.9,287.4 485.3,288.2 487.0,289.0 489.6,290.9 491.1,291.9 494.0,293.8 495.3,296.9 491.1,298.7 487.5,298.7 484.2,297.9 481.4,296.1 477.7,296.1 474.4,296.9 472.3,298.5Z"/>
<path d="M463.2,300.0 464.7,298.7 467.9,298.7 468.8,299.5 466.9,300.3 464.2,300.3Z"/>
</g>
<g class="bd">
<path d="M48.2,200.3 48.2,233.5"/>
<path d="M85.0,268.0 120.0,268.0 158.0,268.0"/>
<path d="M101.0,309.0 107.0,310.0 114.0,311.6 120.0,311.6 126.0,313.0 129.0,315.0 132.0,320.0 136.0,320.0 139.0,322.0 142.0,325.0 145.0,326.0"/>
<path d="M156.0,349.0 158.0,345.0 161.0,344.0 164.0,345.0"/>
<path d="M162.0,351.0 165.0,349.0 168.0,349.0"/>
<path d="M166.0,353.0 170.0,352.0 174.0,350.0"/>
<path d="M171.0,359.0 174.0,358.0 176.0,356.0"/>
<path d="M177.0,365.6 179.0,364.0"/>
<path d="M189.0,370.0 191.0,369.0"/>
<path d="M202.0,358.0 201.0,364.0 206.0,367.0 212.0,370.0 213.0,375.0 211.6,380.0"/>
<path d="M227.0,367.0 226.0,372.0 229.0,376.0 227.0,380.0"/>
<path d="M211.6,380.0 217.0,379.0 220.0,376.0 224.0,378.0 227.0,380.0 231.0,382.0 234.4,379.0 240.4,379.0 243.0,379.0 244.0,373.0"/>
<path d="M235.0,372.0 234.4,379.0"/>
<path d="M240.0,372.4 240.4,379.0"/>
<path d="M185.0,380.0 190.0,383.0 195.0,385.0 200.0,387.0 206.0,391.0 206.4,384.0 211.6,380.0"/>
<path d="M181.0,392.4 185.0,391.0 190.0,387.0 195.0,385.0"/>
<path d="M206.0,391.0 200.0,395.0 198.0,400.0 201.0,404.0 207.0,405.0 208.0,408.0 207.0,414.0 205.0,420.0 204.0,425.0 207.0,431.0 210.0,435.0 206.6,445.0 204.6,452.8"/>
<path d="M208.0,408.0 214.0,407.0 220.0,411.0 227.0,414.0 231.0,419.0 232.0,426.0 233.0,432.0 239.0,434.0 240.0,440.0 237.0,448.0 236.0,452.8"/>
<path d="M208.0,436.0 214.0,434.0 220.0,435.0 223.0,429.0 229.0,427.0 232.0,426.0"/>
<path d="M220.0,435.0 228.0,440.0 235.0,444.0 240.0,440.0"/>
<path d="M204.6,452.8 204.4,458.0 204.0,462.0 203.0,472.0 201.6,482.0 201.0,490.0 199.6,498.0 200.0,506.0 203.0,510.0 205.0,514.0"/>
<path d="M235.0,452.4 237.0,452.4 241.6,456.0 242.4,460.0"/>
<path d="M235.0,452.4 232.4,455.0 232.0,460.0 234.0,463.0"/>
<path d="M236.0,452.8 235.0,452.4"/>
<path d="M507.0,286.6 509.2,285.5 512.4,284.1 515.7,282.8 517.8,282.5 520.0,283.3 520.0,287.4 516.3,287.4 515.7,289.6 514.1,290.1 515.5,293.0 516.3,293.0 518.9,294.3 519.6,296.9 520.0,298.7 521.1,301.3 520.0,301.3 521.8,303.9 522.0,307.6 520.0,309.1 517.4,309.9 514.6,308.9 512.4,307.6 511.1,305.4 511.8,303.1 512.4,300.5 514.1,300.3 512.6,299.5 511.3,297.4 509.8,295.9 508.1,293.5 508.1,290.9 506.6,289.3 507.4,287.7 507.0,286.6"/>
<path d="M473.8,394.1 475.5,392.6 478.4,392.4 479.4,394.1 478.8,396.3 476.6,398.4 474.4,398.6 473.8,396.3 473.8,394.1"/>
<path d="M468.4,400.4 469.7,402.8 471.8,409.3 472.3,411.9 471.0,411.1 469.0,406.0 468.1,402.8 468.4,400.4"/>
<path d="M478.8,413.9 480.1,417.0 480.9,421.4 481.4,424.2 480.1,423.6 479.2,419.2 478.6,415.9 478.8,413.9"/>
<path d="M385.9,296.4 387.2,295.9 390.7,296.4 391.6,297.2 390.0,298.7 389.8,302.1 388.7,302.3 389.8,305.9 388.9,308.4"/>
<path d="M401.1,292.5 403.5,293.8 406.5,294.0 408.7,294.8 411.7,295.1"/>
<path d="M410.4,271.3 411.9,272.2 414.1,274.4 415.4,274.1 417.6,275.8 418.9,275.8 422.8,277.2 421.5,281.1 420.2,281.7 418.2,284.7 419.8,285.8 420.2,285.8 420.0,287.9 420.2,290.1 421.3,291.4"/>
<path d="M412.4,270.4 414.3,270.4 415.9,270.1 417.6,271.0 418.0,272.2 418.7,273.6 418.2,274.1 417.6,275.8"/>
<path d="M418.2,274.1 418.9,275.8"/>
<path d="M420.2,285.8 422.1,285.8 423.4,284.4 424.5,286.1 425.6,284.4 427.6,283.9 429.3,283.1 431.5,282.8 431.9,283.6 434.7,284.1 436.7,284.4 439.1,283.6 439.9,283.1 440.8,281.7 442.1,280.0"/>
<path d="M421.5,281.1 423.7,280.9 425.8,281.4 425.6,282.5 427.6,283.1 427.6,283.9"/>
<path d="M420.6,264.9 420.2,267.5 419.5,269.0 418.0,269.3 418.4,270.4 418.0,272.2"/>
<path d="M423.7,260.1 425.8,260.1"/>
<path d="M436.0,263.1 436.2,265.8 436.9,268.4 437.6,271.6 436.0,271.9 433.2,273.3 431.7,273.9 432.1,275.3 434.9,277.8 433.2,279.2 433.2,281.4 431.5,281.1 428.9,281.7 427.1,282.0 425.8,281.4"/>
<path d="M434.9,277.8 437.6,277.2 441.7,278.4 442.1,280.0 445.6,280.6 448.2,279.8 451.4,278.6 453.0,278.9 453.8,277.0"/>
<path d="M437.6,271.6 439.7,272.7 441.7,273.6 444.1,274.4 445.8,275.8 444.1,277.2 442.3,277.5 441.7,278.4"/>
<path d="M445.8,275.8 448.4,276.7 450.6,276.1 453.8,277.0 454.9,274.4 457.3,273.0 456.2,270.1 456.2,266.9 456.9,263.1 454.5,261.6 448.0,261.6"/>
<path d="M454.5,261.6 454.5,259.8 451.0,258.9"/>
<path d="M450.6,256.5 454.7,255.6 459.2,256.2 462.7,257.7 460.8,261.0 460.3,262.2 456.9,263.1"/>
<path d="M457.9,250.9 460.6,250.9 464.2,252.2 465.1,250.6 464.7,247.7 465.8,245.8"/>
<path d="M464.2,252.2 465.8,255.2 466.2,256.5 462.7,257.7"/>
<path d="M466.2,256.5 472.1,258.0 472.3,260.7 476.0,264.3 473.1,265.5 474.0,268.4 471.2,270.7 465.3,269.9 459.9,269.0 456.2,270.1"/>
<path d="M474.0,268.4 478.4,267.5 481.8,273.0 487.5,274.7 492.0,275.6 491.1,280.6 487.9,282.5"/>
<path d="M453.0,278.9 454.7,280.0 459.0,280.9 462.7,279.2 465.8,279.2 468.4,280.3 470.3,284.4 467.7,284.4 466.2,286.9 469.4,287.7"/>
<path d="M462.7,279.2 464.7,281.4 466.0,283.3 466.2,286.9"/>
<path d="M454.7,280.0 451.6,283.6 449.1,285.2 446.0,285.8 443.0,285.8 440.6,283.9 439.9,283.1"/>
<path d="M449.1,285.2 451.4,287.7 451.6,288.7 453.8,289.3 454.3,290.3 454.9,291.4 460.3,291.9 463.6,290.6 467.1,291.7"/>
<path d="M454.3,290.3 453.6,291.9 454.9,293.3 453.6,295.4 454.9,297.9 458.2,297.4 461.6,297.7 462.3,296.9 464.7,296.1 465.8,296.1"/>
<path d="M462.3,296.9 462.1,298.7 461.4,299.5"/>
<path d="M448.4,302.1 449.9,300.5 450.6,299.2 453.6,298.2 454.9,297.9"/>
<path d="M447.1,296.4 448.4,294.6 449.7,296.4 449.5,297.9 450.6,299.2"/>
<path d="M434.5,286.9 436.5,286.9 438.2,286.9 439.1,285.0 440.6,283.9"/>
<path d="M439.3,287.7 441.9,287.7 446.2,288.5 447.1,290.3 446.7,292.2 445.1,294.6 443.2,293.5 440.4,290.9 439.3,287.7"/>
<path d="M446.2,288.5 446.2,286.9 446.0,285.8"/>
<path d="M446.7,292.2 449.1,294.0 448.4,294.6"/>
<path d="M449.1,294.0 451.9,295.4 453.6,295.4"/>
<path d="M451.9,295.4 449.7,296.4"/>
<path d="M429.9,247.4 432.1,243.6 431.5,240.9 431.3,238.6 431.7,236.6 431.3,232.5 435.2,230.8 436.0,226.9 436.5,223.4 438.6,222.7 440.6,218.3 443.8,216.4 444.3,214.6 448.4,214.9 449.7,212.4 452.7,214.6 456.4,216.8 456.2,219.4 457.1,220.8 457.3,224.5"/>
<path d="M449.7,212.4 451.2,211.5 453.6,213.8 455.3,214.2 459.2,214.2 461.0,212.7 461.4,210.0 465.5,208.4 467.7,212.5 472.1,210.8 471.8,209.6"/>
<path d="M467.7,212.5 466.9,215.7 470.1,217.6 468.1,220.5 470.3,224.8 469.4,228.0 471.2,230.1 470.1,231.8 473.6,234.6 470.1,238.3 465.3,242.6"/>
<path d="M482.9,311.6 484.6,310.9 484.4,309.4 487.5,309.4 491.8,308.9 497.0,308.6 502.2,308.4 501.6,305.6 500.5,302.8 502.2,302.1 499.8,301.0 499.4,298.5 497.2,297.4 495.1,297.4"/>
<path d="M491.8,292.5 496.1,293.0 500.1,294.6 502.6,294.3 505.7,296.4 508.7,298.2 510.5,296.7"/>
<path d="M505.7,296.4 506.1,298.5 502.6,297.9 499.4,298.5"/>
<path d="M502.6,297.9 503.7,299.8 505.9,302.6 505.9,304.1"/>
<path d="M502.2,302.1 505.9,304.1 509.2,302.1 511.1,305.4"/>
<path d="M497.0,308.6 494.4,314.3 489.2,317.7 484.9,320.4 482.7,319.4 482.9,318.0 484.4,315.8 483.1,314.8"/>
<path d="M481.2,318.5 482.7,318.0"/>
<path d="M482.2,319.4 482.0,322.3 480.9,327.1"/>
<path d="M479.4,322.8 480.7,327.1"/>
<path d="M480.9,327.3 483.3,327.8 486.4,325.9 487.5,324.7 485.3,322.3 490.1,320.9 489.2,317.7"/>
<path d="M490.1,320.9 492.7,321.4 496.4,323.3 502.0,327.8 505.9,328.0 508.5,325.7 509.2,325.9"/>
<path d="M505.9,328.0 508.1,329.5 510.0,329.5"/>
<path d="M502.2,308.4 503.5,311.4 505.0,313.6 503.9,314.8 503.5,316.5 505.0,318.7 508.9,321.6 508.5,323.5 510.5,325.9"/>
<path d="M497.0,357.1 498.7,354.9 500.9,354.9 505.7,355.3 507.0,356.0 509.6,353.1 511.6,352.2 517.8,351.3 524.4,349.0 525.9,344.5 524.8,342.9 519.1,342.4 517.0,339.5"/>
<path d="M515.2,338.3 516.1,338.5"/>
<path d="M524.8,342.9 526.1,339.5 526.7,338.3 527.4,337.8"/>
<path d="M517.8,351.3 520.2,356.6"/>
<path d="M522.0,308.1 523.9,307.9 526.5,306.1 529.3,306.4 531.7,307.4 533.7,307.6 535.2,310.1 537.6,309.9 537.8,312.4 536.3,315.1 536.3,317.0 537.1,321.1 538.9,322.6 537.1,326.4 539.1,329.0 541.3,330.2 541.3,332.5 542.4,333.7 539.3,334.8 538.7,337.1"/>
<path d="M537.1,326.4 540.6,327.3 544.1,327.3 548.9,326.1 549.7,323.1 551.9,322.6 555.4,321.4 555.4,318.5 556.9,316.3 559.3,315.3 560.1,312.1 560.4,310.4 564.9,309.1 567.5,308.4"/>
<path d="M537.8,312.4 540.0,313.1 542.1,311.6 545.0,310.6 547.4,308.1 549.3,307.9 552.1,308.4 552.6,308.9 555.8,307.4 557.3,307.4 557.8,306.1 559.7,305.6 560.1,306.6 560.4,309.6 562.5,308.9 567.5,308.4"/>
<path d="M549.3,307.9 546.0,305.4 540.4,301.3 537.4,298.2 535.4,297.7 535.2,295.6 532.2,294.0 530.4,295.6 528.7,297.9 526.3,297.9 526.5,288.2 531.9,286.6 537.6,289.8 539.5,292.2 545.8,291.7 548.4,293.5 548.2,296.1 549.7,298.2 552.6,298.5 554.7,297.7 558.9,295.4"/>
<path d="M518.9,296.7 522.2,295.4 525.2,297.9 526.3,297.9"/>
<path d="M511.3,285.0 510.2,283.9 507.0,280.3 505.9,278.9 507.0,276.7 507.6,273.6 510.5,272.7 515.2,269.6 520.9,270.1 523.3,271.6 525.9,272.7 531.5,271.3 535.0,271.9 538.2,272.2 535.2,269.0 537.4,265.8 537.8,263.1 546.5,261.9 553.0,259.8 554.7,258.6 558.6,258.9 559.5,262.5 564.5,262.8 564.5,264.6 571.0,262.2 571.9,261.6 573.8,264.6 578.6,271.9 582.7,272.2 586.0,271.6 589.7,274.1 593.4,275.0 594.7,276.7"/>
<path d="M594.7,276.7 591.2,278.9 591.0,281.7 585.1,282.2 584.0,286.9 579.2,288.2 580.5,293.0 579.0,293.8 579.0,296.1 574.7,298.7 571.7,299.0 567.3,300.3 564.9,302.6 567.5,305.1 567.5,308.4"/>
<path d="M579.0,296.1 576.6,293.8 569.7,293.5 564.7,293.3 564.5,294.8 559.1,295.4 558.9,295.4 560.8,297.4 563.4,299.2 561.2,300.3 558.2,300.8 554.7,301.0 553.6,302.6 551.3,303.6 553.4,305.9 552.1,308.4"/>
<path d="M564.9,302.6 561.2,302.8 558.0,302.3 555.4,302.6"/>
<path d="M594.7,276.7 599.6,275.0 605.1,272.2 610.7,274.4 616.1,275.3 618.3,273.0 617.7,270.1 621.8,268.7 626.8,270.7 626.6,273.0 632.9,273.3 639.1,275.0 645.2,277.0 650.0,275.8 653.2,273.9 658.2,274.7"/>
<path d="M594.7,276.7 596.0,278.4 600.3,280.3 602.5,283.1 602.2,287.4 607.9,288.5 612.0,290.3 614.0,294.3 623.7,294.3 631.8,296.4 632.9,297.2 638.3,294.8 642.2,295.1 647.6,291.7 647.8,287.9 651.3,288.7 656.7,286.3 663.0,283.3 665.0,283.6 659.8,280.9 656.1,280.9 655.6,279.8 658.2,274.7"/>
<path d="M658.2,274.7 660.8,275.8 663.9,274.1 666.9,268.7 665.4,266.4 667.6,264.9 673.2,264.3 678.2,266.4 681.2,272.4 682.1,275.0 685.8,276.1 688.4,278.1 689.3,280.6 692.5,280.6 696.9,278.9 693.8,287.9 691.2,287.4 689.3,288.5 689.9,292.2 688.4,295.1 687.1,293.5 682.8,296.1 680.4,296.7 675.0,301.6"/>
<path d="M679.9,306.9 683.6,304.9"/>
<path d="M639.4,345.6 636.5,342.4 633.5,341.5 630.5,343.4 626.6,343.6 624.4,346.3 622.2,345.6 620.3,344.3 619.8,341.8 619.2,339.7 616.6,339.9 619.2,335.5 619.2,331.8 616.1,330.2 613.5,327.3 610.5,327.6 604.9,331.1 601.4,330.2 599.2,330.4 597.7,332.3 596.2,330.9 591.6,330.6 587.3,328.5 582.9,325.4 580.8,325.4 576.9,322.8 575.8,319.7 577.5,318.7 576.0,315.3 574.3,312.6 569.9,311.9 567.5,308.4"/>
<path d="M604.9,331.1 604.0,333.4 599.9,333.7 597.9,332.5"/>
<path d="M553.0,340.6 556.9,339.5 559.1,339.0 557.5,336.0 555.8,333.0 558.6,331.3 561.2,330.2 564.3,326.1 566.7,323.5 566.9,321.4 568.6,320.4 565.6,318.2 565.6,314.6 569.9,311.9"/>
<path d="M580.8,325.4 578.8,328.8 582.9,330.9 587.3,332.0 591.2,333.9 596.2,334.4 596.2,330.9"/>
<path d="M598.1,344.7 597.9,342.2 596.2,338.8 596.4,335.8 597.9,334.6 599.9,335.8 599.9,336.9 605.1,337.4 605.1,339.5 602.9,340.6 603.8,342.4 605.3,341.1 605.9,344.7 605.3,347.4"/>
<path d="M605.9,344.7 607.2,343.8 607.5,339.9 610.3,337.1 611.6,333.7 615.5,331.3 616.1,330.2"/>
<path d="M619.0,371.4 620.3,367.7 620.0,363.1 618.1,360.2 619.0,357.8 617.2,354.4 616.4,352.4 617.7,349.7 622.2,348.1 624.4,346.3"/>
<path d="M622.2,348.1 623.1,350.1 624.6,350.1 624.2,354.4 626.6,353.1 629.2,352.6 632.2,354.6 632.4,357.1 634.1,358.9 633.9,361.5 633.3,361.8 628.5,362.0 627.2,363.3 628.3,367.5"/>
<path d="M626.6,343.6 628.5,346.8 632.0,347.9 630.7,350.1 633.3,352.2 636.1,356.0 638.3,358.4 638.3,360.9 635.0,361.8 633.3,361.8"/>
<path d="M638.3,360.9 638.3,365.7 635.0,367.5 634.8,369.0 631.5,370.4"/>
<path d="M622.2,379.1 624.4,380.6 626.6,379.5"/>
<path d="M642.8,388.7 644.8,391.1 648.0,390.0 652.4,390.0 654.5,387.6 656.1,383.9 660.2,383.9"/>
<path d="M711.0,398.6 711.0,412.8"/>
<path d="M400.2,313.6 401.1,316.3 402.4,320.4 398.5,322.1 397.2,323.8 394.1,325.9 390.9,326.9 386.1,329.0 386.1,332.3 394.6,337.6 407.6,346.5 408.9,348.4 411.9,349.5 411.9,351.3 417.6,350.1 421.3,347.0 431.0,341.1 426.7,338.8 425.4,334.8 426.5,331.8 425.8,325.4 424.5,320.9 421.5,318.2 423.0,313.8 423.7,309.1"/>
<path d="M386.1,331.3 376.4,331.3"/>
<path d="M386.1,335.3 379.0,335.3 379.0,341.3 376.8,342.2 376.6,346.1 368.1,346.1"/>
<path d="M425.8,325.4 427.4,321.9 429.9,319.9 429.9,318.2"/>
<path d="M394.6,337.6 391.1,337.6 393.1,359.1 384.8,359.1 381.8,359.3 380.1,358.9 378.5,360.6 375.9,357.8 373.5,356.6 369.2,357.8"/>
<path d="M378.5,360.6 380.3,366.0 375.3,365.5 372.0,365.3 368.8,366.0"/>
<path d="M375.3,365.5 375.3,367.5 372.4,369.0"/>
<path d="M368.5,363.3 372.4,362.9 375.1,363.8 372.4,364.2 368.5,364.2"/>
<path d="M380.3,366.0 384.8,366.0 387.0,369.0 387.6,370.8 391.6,369.7 393.1,370.4 394.8,371.9 398.9,371.9 398.1,378.2 398.9,381.9"/>
<path d="M376.1,373.4 378.1,371.4 380.7,371.2 382.0,373.2 382.6,374.5 384.6,376.9 386.8,376.5 387.6,374.5 387.6,370.8"/>
<path d="M382.6,374.5 380.1,378.0"/>
<path d="M386.8,376.5 386.6,378.9 388.9,380.4 388.7,383.4"/>
<path d="M398.9,369.0 404.6,368.8 406.9,369.0 410.0,366.2 412.8,367.5 410.9,375.6 410.9,379.1"/>
<path d="M405.0,368.8 406.3,374.5 406.1,377.8 407.6,379.8"/>
<path d="M406.7,369.0 408.5,373.4 408.7,379.5"/>
<path d="M393.1,370.4 393.5,367.3 395.7,365.3 396.5,363.8 398.7,362.4 400.7,362.0 403.5,360.0 405.4,360.2 407.8,359.5 412.6,359.3 414.1,356.0 414.1,351.1"/>
<path d="M398.9,371.9 398.9,369.0"/>
<path d="M405.4,360.2 407.2,363.8 410.0,366.2"/>
<path d="M412.8,367.5 413.9,363.5 420.0,364.6 424.5,365.1 426.7,364.0 433.4,363.5 434.5,363.1 438.6,356.0 439.7,348.4 437.6,342.2 431.0,341.1"/>
<path d="M437.6,342.2 457.1,350.1 457.1,349.0 459.2,349.0 459.2,344.5 459.2,327.8 458.6,325.7 459.7,322.1"/>
<path d="M459.2,344.5 486.4,344.5"/>
<path d="M457.1,350.1 457.1,358.6 454.7,358.6 452.7,365.3 454.7,369.0 452.1,369.9 446.2,373.4 445.4,375.6 438.6,376.7 437.6,373.9 435.4,371.2 437.8,371.2 437.6,367.9 435.8,365.7 434.5,363.1"/>
<path d="M435.8,365.7 433.2,372.3 430.6,377.8 426.3,378.9 423.7,382.6"/>
<path d="M438.6,376.7 436.5,380.0 436.9,383.0 439.9,388.2 433.9,388.2 429.5,388.2 426.3,388.0"/>
<path d="M425.8,390.8 429.5,390.8 429.5,388.2"/>
<path d="M429.1,401.5 431.0,398.2 436.5,398.0 436.2,394.1 435.2,393.0 436.5,390.0 433.9,388.2"/>
<path d="M431.5,405.4 433.4,403.0 436.2,403.6 438.2,402.3 440.1,397.8 443.4,394.1 443.8,390.8 445.4,385.4 440.8,386.1 439.9,388.2"/>
<path d="M445.4,385.4 445.4,383.7 448.0,381.9 453.6,384.1 458.2,381.9 464.5,381.7 459.9,377.1 457.1,374.1 456.0,371.2 454.7,369.0"/>
<path d="M457.1,374.1 459.2,370.6 465.8,372.8 470.1,371.2 475.3,366.8 477.0,369.7 479.0,372.3 479.4,369.7 481.2,367.3 483.3,365.3 484.2,361.8 485.3,355.8 490.1,353.5"/>
<path d="M484.2,361.8 488.6,361.5 491.8,361.3 495.5,364.6 497.0,365.7 495.7,369.0 498.3,369.0 498.1,371.2 500.5,373.4 507.0,375.6 509.2,375.6 502.6,382.1 496.1,383.9 494.0,384.5 490.7,385.6 487.7,385.2 483.1,383.4 482.9,383.0 478.8,374.7 479.0,372.3"/>
<path d="M498.3,369.0 499.0,367.9"/>
<path d="M482.9,383.0 478.8,383.9 476.6,384.8 472.3,385.0 471.8,385.4 469.0,383.2 464.5,381.7"/>
<path d="M494.0,384.5 494.0,394.9 495.1,396.7"/>
<path d="M478.8,383.9 480.9,388.9 478.8,392.4 478.6,395.2 486.8,399.7 490.1,403.2"/>
<path d="M471.8,385.4 472.9,388.2 469.9,391.7 469.2,396.0 471.2,395.2 478.6,395.2"/>
<path d="M469.2,396.0 467.9,398.9 468.4,402.6"/>
<path d="M471.2,395.2 471.8,398.2 470.1,402.6 468.8,402.6"/>
<path d="M467.9,398.9 471.8,398.2"/>
<path d="M471.8,411.1 476.4,413.5 478.8,413.7"/>
<path d="M480.7,418.3 486.4,418.5 492.7,415.9"/>
<path d="M476.4,413.5 477.0,420.3 476.0,422.7 477.0,423.6 479.9,424.7 482.9,428.0 481.6,430.5 479.4,427.6 479.9,424.7"/>
<path d="M431.7,406.2 441.0,405.8 441.9,408.6 447.1,408.2 447.3,410.4 452.3,408.9 452.7,413.7 453.2,417.4 456.9,416.7 457.1,420.3 460.1,418.3 464.7,419.8 467.9,422.2 469.7,422.2 469.7,419.6 466.6,418.9 467.1,413.2 471.8,411.1"/>
<path d="M457.1,420.3 457.1,421.4 452.7,421.4 452.7,428.5 455.8,431.6 459.9,432.0"/>
<path d="M430.6,430.9 435.4,431.1 445.1,431.1 451.4,432.5 455.8,431.6"/>
<path d="M450.6,433.1 450.6,441.5 448.4,441.5 448.4,447.9 448.4,456.3 442.8,457.0 440.8,456.8"/>
<path d="M448.4,447.9 450.1,452.6 454.0,450.9 458.6,450.2 461.2,447.7 463.6,445.2 468.8,442.0 465.1,438.1 461.9,434.7 459.9,432.0 463.6,432.5 467.7,428.0 471.0,427.1 472.9,428.0 476.4,429.6 476.6,432.5 476.0,438.1 472.9,442.4 474.4,447.2 474.2,450.5 476.4,452.8"/>
<path d="M468.8,442.0 472.9,442.4"/>
<path d="M471.0,427.1 470.5,425.4 477.0,423.6"/>
<path d="M463.6,459.1 465.8,457.0 468.6,458.0 468.4,459.9 466.0,461.5 464.2,460.8 463.6,459.1"/>
<path d="M472.3,450.7 474.2,450.5 474.7,452.6 472.3,453.5 472.3,450.7"/>
</g>
<g class="mk">
<circle cx="89.0" cy="274.0" r="2.4"/><rect x="87.95" y="273.55" width="2.1" height=".9" rx=".3"/>
<circle cx="87.6" cy="294.6" r="2.4"/><rect x="86.55" y="294.15" width="2.1" height=".9" rx=".3"/>
<circle cx="92.4" cy="302.4" r="2.4"/><rect x="91.35" y="301.95" width="2.1" height=".9" rx=".3"/>
<circle cx="97.6" cy="306.2" r="2.4"/><rect x="96.55" y="305.75" width="2.1" height=".9" rx=".3"/>
<circle cx="115.0" cy="308.0" r="2.4"/><rect x="113.95" y="307.55" width="2.1" height=".9" rx=".3"/>
<circle cx="127.4" cy="293.6" r="2.4"/><rect x="126.35" y="293.15" width="2.1" height=".9" rx=".3"/>
<circle cx="139.6" cy="294.2" r="2.4"/><rect x="138.55" y="293.75" width="2.1" height=".9" rx=".3"/>
<circle cx="141.0" cy="311.4" r="2.4"/><rect x="139.95" y="310.95" width="2.1" height=".9" rx=".3"/>
<circle cx="147.4" cy="308.4" r="2.4"/><rect x="146.35" y="307.95" width="2.1" height=".9" rx=".3"/>
<circle cx="147.4" cy="314.0" r="2.4"/><rect x="146.35" y="313.55" width="2.1" height=".9" rx=".3"/>
<circle cx="152.0" cy="316.4" r="2.4"/><rect x="150.95" y="315.95" width="2.1" height=".9" rx=".3"/>
<circle cx="146.0" cy="319.8" r="2.4"/><rect x="144.95" y="319.35" width="2.1" height=".9" rx=".3"/>
<circle cx="163.4" cy="315.2" r="2.4"/><rect x="162.35" y="314.75" width="2.1" height=".9" rx=".3"/>
<circle cx="171.6" cy="316.4" r="2.4"/><rect x="170.55" y="315.95" width="2.1" height=".9" rx=".3"/>
<circle cx="179.4" cy="319.8" r="2.4"/><rect x="178.35" y="319.35" width="2.1" height=".9" rx=".3"/>
<circle cx="180.6" cy="323.4" r="2.4"/><rect x="179.55" y="322.95" width="2.1" height=".9" rx=".3"/>
<circle cx="136.0" cy="333.4" r="2.4"/><rect x="134.95" y="332.95" width="2.1" height=".9" rx=".3"/>
<circle cx="160.8" cy="286.8" r="2.4"/><rect x="159.75" y="286.35" width="2.1" height=".9" rx=".3"/>
<circle cx="168.2" cy="287.4" r="2.4"/><rect x="167.15" y="286.95" width="2.1" height=".9" rx=".3"/>
<circle cx="183.2" cy="275.2" r="2.4"/><rect x="182.15" y="274.75" width="2.1" height=".9" rx=".3"/>
<circle cx="188.8" cy="278.2" r="2.4"/><rect x="187.75" y="277.75" width="2.1" height=".9" rx=".3"/>
<circle cx="187.4" cy="282.8" r="2.4"/><rect x="186.35" y="282.35" width="2.1" height=".9" rx=".3"/>
<circle cx="181.8" cy="288.8" r="2.4"/><rect x="180.75" y="288.35" width="2.1" height=".9" rx=".3"/>
<circle cx="186.6" cy="289.6" r="2.4"/><rect x="185.55" y="289.15" width="2.1" height=".9" rx=".3"/>
<circle cx="191.8" cy="289.6" r="2.4"/><rect x="190.75" y="289.15" width="2.1" height=".9" rx=".3"/>
<circle cx="196.4" cy="290.0" r="2.4"/><rect x="195.35" y="289.55" width="2.1" height=".9" rx=".3"/>
<circle cx="193.2" cy="297.0" r="2.4"/><rect x="192.15" y="296.55" width="2.1" height=".9" rx=".3"/>
<circle cx="171.6" cy="300.0" r="2.4"/><rect x="170.55" y="299.55" width="2.1" height=".9" rx=".3"/>
<circle cx="176.6" cy="298.8" r="2.4"/><rect x="175.55" y="298.35" width="2.1" height=".9" rx=".3"/>
<circle cx="181.8" cy="297.6" r="2.4"/><rect x="180.75" y="297.15" width="2.1" height=".9" rx=".3"/>
<circle cx="172.6" cy="305.0" r="2.4"/><rect x="171.55" y="304.55" width="2.1" height=".9" rx=".3"/>
<circle cx="176.6" cy="304.4" r="2.4"/><rect x="175.55" y="303.95" width="2.1" height=".9" rx=".3"/>
<circle cx="181.0" cy="303.2" r="2.4"/><rect x="179.95" y="302.75" width="2.1" height=".9" rx=".3"/>
<circle cx="172.2" cy="310.4" r="2.4"/><rect x="171.15" y="309.95" width="2.1" height=".9" rx=".3"/>
<circle cx="177.6" cy="308.4" r="2.4"/><rect x="176.55" y="307.95" width="2.1" height=".9" rx=".3"/>
<circle cx="182.6" cy="308.4" r="2.4"/><rect x="181.55" y="307.95" width="2.1" height=".9" rx=".3"/>
<circle cx="320.3" cy="217.0" r="2.4"/><rect x="319.22" y="216.54" width="2.1" height=".9" rx=".3"/>
<circle cx="190.0" cy="400.0" r="2.4"/><rect x="188.95" y="399.55" width="2.1" height=".9" rx=".3"/>
<circle cx="246.6" cy="410.2" r="2.4"/><rect x="245.55" y="409.75" width="2.1" height=".9" rx=".3"/>
<circle cx="213.0" cy="318.4" r="2.4"/><rect x="211.95" y="317.95" width="2.1" height=".9" rx=".3"/>
<circle cx="461.0" cy="232.5" r="2.4"/><rect x="459.95" y="232.05" width="2.1" height=".9" rx=".3"/>
<circle cx="423.5" cy="239.8" r="2.4"/><rect x="422.45" y="239.30" width="2.1" height=".9" rx=".3"/>
<circle cx="435.4" cy="247.5" r="2.4"/><rect x="434.35" y="247.05" width="2.1" height=".9" rx=".3"/>
<circle cx="424.0" cy="255.4" r="2.4"/><rect x="422.95" y="254.95" width="2.1" height=".9" rx=".3"/>
<circle cx="416.5" cy="265.6" r="2.4"/><rect x="415.45" y="265.15" width="2.1" height=".9" rx=".3"/>
<circle cx="408.5" cy="272.8" r="2.4"/><rect x="407.45" y="272.30" width="2.1" height=".9" rx=".3"/>
<circle cx="427.1" cy="269.6" r="2.4"/><rect x="426.05" y="269.15" width="2.1" height=".9" rx=".3"/>
<circle cx="446.5" cy="267.2" r="2.4"/><rect x="445.45" y="266.80" width="2.1" height=".9" rx=".3"/>
<circle cx="464.8" cy="264.0" r="2.4"/><rect x="463.70" y="263.55" width="2.1" height=".9" rx=".3"/>
<circle cx="491.2" cy="265.0" r="2.4"/><rect x="490.20" y="264.55" width="2.1" height=".9" rx=".3"/>
<circle cx="462.1" cy="272.5" r="2.4"/><rect x="461.05" y="272.05" width="2.1" height=".9" rx=".3"/>
<circle cx="469.1" cy="273.1" r="2.4"/><rect x="468.05" y="272.65" width="2.1" height=".9" rx=".3"/>
<circle cx="476.2" cy="277.2" r="2.4"/><rect x="475.20" y="276.80" width="2.1" height=".9" rx=".3"/>
<circle cx="437.9" cy="274.1" r="2.4"/><rect x="436.85" y="273.65" width="2.1" height=".9" rx=".3"/>
<circle cx="429.6" cy="279.6" r="2.4"/><rect x="428.55" y="279.15" width="2.1" height=".9" rx=".3"/>
<circle cx="433.8" cy="279.8" r="2.4"/><rect x="432.70" y="279.30" width="2.1" height=".9" rx=".3"/>
<circle cx="438.8" cy="279.8" r="2.4"/><rect x="437.70" y="279.30" width="2.1" height=".9" rx=".3"/>
<circle cx="443.8" cy="281.9" r="2.4"/><rect x="442.70" y="281.45" width="2.1" height=".9" rx=".3"/>
<circle cx="449.0" cy="281.6" r="2.4"/><rect x="447.95" y="281.15" width="2.1" height=".9" rx=".3"/>
<circle cx="424.6" cy="282.8" r="2.4"/><rect x="423.55" y="282.30" width="2.1" height=".9" rx=".3"/>
<circle cx="420.2" cy="282.8" r="2.4"/><rect x="419.20" y="282.30" width="2.1" height=".9" rx=".3"/>
<circle cx="417.1" cy="285.6" r="2.4"/><rect x="416.05" y="285.15" width="2.1" height=".9" rx=".3"/>
<circle cx="421.5" cy="287.5" r="2.4"/><rect x="420.45" y="287.05" width="2.1" height=".9" rx=".3"/>
<circle cx="434.0" cy="285.4" r="2.4"/><rect x="432.95" y="284.95" width="2.1" height=".9" rx=".3"/>
<circle cx="437.1" cy="289.1" r="2.4"/><rect x="436.05" y="288.65" width="2.1" height=".9" rx=".3"/>
<circle cx="487.5" cy="286.6" r="2.4"/><rect x="486.45" y="286.15" width="2.1" height=".9" rx=".3"/>
<circle cx="432.8" cy="294.5" r="2.4"/><rect x="431.70" y="294.05" width="2.1" height=".9" rx=".3"/>
<circle cx="445.0" cy="295.0" r="2.4"/><rect x="443.95" y="294.55" width="2.1" height=".9" rx=".3"/>
<circle cx="458.8" cy="293.6" r="2.4"/><rect x="457.70" y="293.15" width="2.1" height=".9" rx=".3"/>
<circle cx="463.9" cy="293.8" r="2.4"/><rect x="462.85" y="293.35" width="2.1" height=".9" rx=".3"/>
<circle cx="419.1" cy="297.1" r="2.4"/><rect x="418.05" y="296.65" width="2.1" height=".9" rx=".3"/>
<circle cx="464.9" cy="300.3" r="2.4"/><rect x="463.85" y="299.85" width="2.1" height=".9" rx=".3"/>
<circle cx="451.6" cy="303.2" r="2.4"/><rect x="450.55" y="302.80" width="2.1" height=".9" rx=".3"/>
<circle cx="455.8" cy="305.6" r="2.4"/><rect x="454.70" y="305.15" width="2.1" height=".9" rx=".3"/>
<circle cx="394.6" cy="310.4" r="2.4"/><rect x="393.55" y="309.95" width="2.1" height=".9" rx=".3"/>
<circle cx="434.1" cy="310.8" r="2.4"/><rect x="433.05" y="310.30" width="2.1" height=".9" rx=".3"/>
<circle cx="425.9" cy="315.4" r="2.4"/><rect x="424.85" y="314.95" width="2.1" height=".9" rx=".3"/>
<circle cx="390.4" cy="320.1" r="2.4"/><rect x="389.35" y="319.65" width="2.1" height=".9" rx=".3"/>
<circle cx="475.2" cy="314.0" r="2.4"/><rect x="474.15" y="313.55" width="2.1" height=".9" rx=".3"/>
<circle cx="481.2" cy="316.0" r="2.4"/><rect x="480.20" y="315.55" width="2.1" height=".9" rx=".3"/>
<circle cx="479.6" cy="320.6" r="2.4"/><rect x="478.55" y="320.15" width="2.1" height=".9" rx=".3"/>
<circle cx="482.9" cy="323.8" r="2.4"/><rect x="481.85" y="323.30" width="2.1" height=".9" rx=".3"/>
<circle cx="468.1" cy="335.0" r="2.4"/><rect x="467.05" y="334.55" width="2.1" height=".9" rx=".3"/>
<circle cx="510.8" cy="299.5" r="2.4"/><rect x="509.70" y="299.05" width="2.1" height=".9" rx=".3"/>
<circle cx="498.2" cy="318.0" r="2.4"/><rect x="497.20" y="317.55" width="2.1" height=".9" rx=".3"/>
<circle cx="507.1" cy="327.5" r="2.4"/><rect x="506.05" y="327.05" width="2.1" height=".9" rx=".3"/>
<circle cx="513.1" cy="334.6" r="2.4"/><rect x="512.05" y="334.15" width="2.1" height=".9" rx=".3"/>
<circle cx="517.1" cy="337.6" r="2.4"/><rect x="516.05" y="337.15" width="2.1" height=".9" rx=".3"/>
<circle cx="522.1" cy="340.9" r="2.4"/><rect x="521.05" y="340.45" width="2.1" height=".9" rx=".3"/>
<circle cx="525.9" cy="336.6" r="2.4"/><rect x="524.85" y="336.15" width="2.1" height=".9" rx=".3"/>
<circle cx="529.0" cy="345.4" r="2.4"/><rect x="527.95" y="344.95" width="2.1" height=".9" rx=".3"/>
<circle cx="499.6" cy="340.6" r="2.4"/><rect x="498.55" y="340.15" width="2.1" height=".9" rx=".3"/>
<circle cx="384.1" cy="379.1" r="2.4"/><rect x="383.05" y="378.65" width="2.1" height=".9" rx=".3"/>
<circle cx="392.5" cy="378.2" r="2.4"/><rect x="391.45" y="377.80" width="2.1" height=".9" rx=".3"/>
<circle cx="403.4" cy="373.8" r="2.4"/><rect x="402.35" y="373.30" width="2.1" height=".9" rx=".3"/>
<circle cx="403.4" cy="379.1" r="2.4"/><rect x="402.35" y="378.65" width="2.1" height=".9" rx=".3"/>
<circle cx="408.6" cy="373.8" r="2.4"/><rect x="407.55" y="373.30" width="2.1" height=".9" rx=".3"/>
<circle cx="485.6" cy="392.2" r="2.4"/><rect x="484.55" y="391.80" width="2.1" height=".9" rx=".3"/>
<circle cx="484.8" cy="410.2" r="2.4"/><rect x="483.70" y="409.80" width="2.1" height=".9" rx=".3"/>
<circle cx="463.1" cy="424.4" r="2.4"/><rect x="462.05" y="423.95" width="2.1" height=".9" rx=".3"/>
<circle cx="468.8" cy="435.9" r="2.4"/><rect x="467.70" y="435.45" width="2.1" height=".9" rx=".3"/>
<circle cx="458.5" cy="440.9" r="2.4"/><rect x="457.45" y="440.45" width="2.1" height=".9" rx=".3"/>
<circle cx="454.6" cy="460.0" r="2.4"/><rect x="453.55" y="459.55" width="2.1" height=".9" rx=".3"/>
<circle cx="450.6" cy="464.0" r="2.4"/><rect x="449.55" y="463.55" width="2.1" height=".9" rx=".3"/>
<circle cx="524.4" cy="439.8" r="2.4"/><rect x="523.35" y="439.30" width="2.1" height=".9" rx=".3"/>
<circle cx="528.5" cy="438.4" r="2.4"/><rect x="527.45" y="437.95" width="2.1" height=".9" rx=".3"/>
<circle cx="541.6" cy="441.8" r="2.4"/><rect x="540.55" y="441.35" width="2.1" height=".9" rx=".3"/>
<circle cx="557.9" cy="326.6" r="2.4"/><rect x="556.85" y="326.15" width="2.1" height=".9" rx=".3"/>
<circle cx="572.2" cy="326.2" r="2.4"/><rect x="571.20" y="325.80" width="2.1" height=".9" rx=".3"/>
<circle cx="572.2" cy="330.2" r="2.4"/><rect x="571.20" y="329.80" width="2.1" height=".9" rx=".3"/>
<circle cx="589.4" cy="330.9" r="2.4"/><rect x="588.35" y="330.45" width="2.1" height=".9" rx=".3"/>
<circle cx="608.1" cy="334.6" r="2.4"/><rect x="607.05" y="334.15" width="2.1" height=".9" rx=".3"/>
<circle cx="600.0" cy="340.0" r="2.4"/><rect x="598.95" y="339.55" width="2.1" height=".9" rx=".3"/>
<circle cx="606.2" cy="340.6" r="2.4"/><rect x="605.20" y="340.15" width="2.1" height=".9" rx=".3"/>
<circle cx="595.5" cy="343.5" r="2.4"/><rect x="594.45" y="343.05" width="2.1" height=".9" rx=".3"/>
<circle cx="577.4" cy="343.2" r="2.4"/><rect x="576.35" y="342.80" width="2.1" height=".9" rx=".3"/>
<circle cx="564.0" cy="348.6" r="2.4"/><rect x="562.95" y="348.15" width="2.1" height=".9" rx=".3"/>
<circle cx="569.6" cy="350.2" r="2.4"/><rect x="568.55" y="349.80" width="2.1" height=".9" rx=".3"/>
<circle cx="577.6" cy="352.9" r="2.4"/><rect x="576.55" y="352.45" width="2.1" height=".9" rx=".3"/>
<circle cx="564.8" cy="355.0" r="2.4"/><rect x="563.70" y="354.55" width="2.1" height=".9" rx=".3"/>
<circle cx="567.8" cy="358.1" r="2.4"/><rect x="566.70" y="357.65" width="2.1" height=".9" rx=".3"/>
<circle cx="574.1" cy="359.6" r="2.4"/><rect x="573.05" y="359.15" width="2.1" height=".9" rx=".3"/>
<circle cx="581.9" cy="357.9" r="2.4"/><rect x="580.85" y="357.45" width="2.1" height=".9" rx=".3"/>
<circle cx="570.9" cy="371.2" r="2.4"/><rect x="569.85" y="370.80" width="2.1" height=".9" rx=".3"/>
<circle cx="611.1" cy="348.8" r="2.4"/><rect x="610.05" y="348.30" width="2.1" height=".9" rx=".3"/>
<circle cx="611.1" cy="355.9" r="2.4"/><rect x="610.05" y="355.45" width="2.1" height=".9" rx=".3"/>
<circle cx="623.8" cy="359.6" r="2.4"/><rect x="622.70" y="359.15" width="2.1" height=".9" rx=".3"/>
<circle cx="639.8" cy="365.5" r="2.4"/><rect x="638.75" y="365.05" width="2.1" height=".9" rx=".3"/>
<circle cx="573.0" cy="398.6" r="2.4"/><rect x="571.95" y="398.15" width="2.1" height=".9" rx=".3"/>
<circle cx="576.4" cy="397.0" r="2.4"/><rect x="575.35" y="396.55" width="2.1" height=".9" rx=".3"/>
<circle cx="573.2" cy="290.8" r="2.4"/><rect x="572.15" y="290.35" width="2.1" height=".9" rx=".3"/>
<circle cx="656.2" cy="303.8" r="2.4"/><rect x="655.20" y="303.30" width="2.1" height=".9" rx=".3"/>
<circle cx="681.4" cy="309.6" r="2.4"/><rect x="680.35" y="309.15" width="2.1" height=".9" rx=".3"/>
<circle cx="710.4" cy="305.2" r="2.4"/><rect x="709.35" y="304.80" width="2.1" height=".9" rx=".3"/>
<circle cx="708.6" cy="312.2" r="2.4"/><rect x="707.55" y="311.80" width="2.1" height=".9" rx=".3"/>
<circle cx="668.6" cy="323.8" r="2.4"/><rect x="667.55" y="323.30" width="2.1" height=".9" rx=".3"/>
<circle cx="664.1" cy="326.2" r="2.4"/><rect x="663.05" y="325.80" width="2.1" height=".9" rx=".3"/>
<circle cx="650.5" cy="332.1" r="2.4"/><rect x="649.45" y="331.65" width="2.1" height=".9" rx=".3"/>
<circle cx="646.2" cy="337.2" r="2.4"/><rect x="645.20" y="336.80" width="2.1" height=".9" rx=".3"/>
<circle cx="642.5" cy="339.4" r="2.4"/><rect x="641.45" y="338.95" width="2.1" height=".9" rx=".3"/>
<circle cx="649.8" cy="338.8" r="2.4"/><rect x="648.70" y="338.30" width="2.1" height=".9" rx=".3"/>
<circle cx="650.2" cy="341.5" r="2.4"/><rect x="649.20" y="341.05" width="2.1" height=".9" rx=".3"/>
<circle cx="645.8" cy="344.1" r="2.4"/><rect x="644.70" y="343.65" width="2.1" height=".9" rx=".3"/>
<circle cx="650.6" cy="344.4" r="2.4"/><rect x="649.55" y="343.95" width="2.1" height=".9" rx=".3"/>
<circle cx="651.2" cy="346.9" r="2.4"/><rect x="650.20" y="346.45" width="2.1" height=".9" rx=".3"/>
<circle cx="668.8" cy="340.6" r="2.4"/><rect x="667.70" y="340.15" width="2.1" height=".9" rx=".3"/>
<circle cx="625.6" cy="383.8" r="2.4"/><rect x="624.55" y="383.30" width="2.1" height=".9" rx=".3"/>
<circle cx="626.2" cy="388.1" r="2.4"/><rect x="625.20" y="387.65" width="2.1" height=".9" rx=".3"/>
<circle cx="630.4" cy="387.1" r="2.4"/><rect x="629.35" y="386.65" width="2.1" height=".9" rx=".3"/>
<circle cx="630.4" cy="392.1" r="2.4"/><rect x="629.35" y="391.65" width="2.1" height=".9" rx=".3"/>
<circle cx="666.5" cy="399.6" r="2.4"/><rect x="665.45" y="399.15" width="2.1" height=".9" rx=".3"/>
<circle cx="655.4" cy="465.0" r="2.4"/><rect x="654.35" y="464.55" width="2.1" height=".9" rx=".3"/>
<circle cx="737.6" cy="460.0" r="2.4"/><rect x="736.55" y="459.55" width="2.1" height=".9" rx=".3"/>
<circle cx="732.6" cy="468.4" r="2.4"/><rect x="731.55" y="467.95" width="2.1" height=".9" rx=".3"/>
</g>
</g>
<text class="h" transform="translate(50.35,76.25) scale(0.6766,1)" font-size="39.11" stroke-width="2.50" word-spacing="-5.08">MUSC MAP</text>
<g font-family="&quot;Liberation Serif&quot;,serif" font-style="italic" font-weight="bold" font-size="7.1" fill="#d9232b">
<text x="49.5" y="91.6" textLength="80.5" lengthAdjust="spacingAndGlyphs">Europe, Middle East, Asia,</text>
<text x="49.5" y="99.1" textLength="86" lengthAdjust="spacingAndGlyphs">Oceania, Americas &amp; Africa</text>
</g>
<text class="h" transform="translate(445.77,58.30) scale(0.5634,1)" font-size="9.78" stroke-width="0.60">EUROPE</text>
<text class="h" transform="translate(622.20,55.30) scale(0.6832,1)" font-size="8.94" stroke-width="0.60">ASIA</text>
<text class="h" transform="translate(246.19,246.70) scale(0.6418,1)" font-size="9.50" stroke-width="0.60" word-spacing="-0.57">NORTH AMERICA</text>
<text class="h" transform="translate(147.18,394.30) scale(0.6081,1)" font-size="8.38" stroke-width="0.60">SOUTH</text>
<text class="h" transform="translate(147.22,401.70) scale(0.7354,1)" font-size="8.38" stroke-width="0.60">AMERICA</text>
<text class="h" transform="translate(327.19,413.10) scale(0.6361,1)" font-size="9.50" stroke-width="0.60">AFRICA</text>
<text class="h" transform="translate(521.19,368.10) scale(0.6397,1)" font-size="9.50" stroke-width="0.60" word-spacing="-0.57">MIDDLE EAST</text>
<text class="h" transform="translate(594.58,419.30) scale(0.6085,1)" font-size="9.78" stroke-width="0.60">OCEANIA</text>
<g><text class="n" x="450.80" y="63.85">57</text><text class="t" x="452.80" y="63.85">Austria</text></g>
<g><text class="n" x="450.80" y="68.63">58</text><text class="t" x="452.80" y="68.63">Austria Red Devils</text></g>
<g><text class="n" x="450.80" y="73.42">59</text><text class="t" x="452.80" y="73.42">Baku Reds</text></g>
<g><text class="n" x="450.80" y="78.20">60</text><text class="t" x="452.80" y="78.20">Belarus</text></g>
<g><text class="n" x="450.80" y="82.99">61</text><text class="t" x="452.80" y="82.99">Belgium – Flanders Mancunians</text></g>
<g><text class="n" x="450.80" y="87.77">62</text><text class="t" x="452.80" y="87.77">Belgium – Red Flag</text></g>
<g><text class="n" x="450.80" y="92.56">63</text><text class="t" x="452.80" y="92.56">Bulgaria</text></g>
<g><text class="n" x="450.80" y="97.34">64</text><text class="t" x="452.80" y="97.34">Bulgaria – Red Devils</text></g>
<g><text class="n" x="450.80" y="102.13">65</text><text class="t" x="452.80" y="102.13">Croatia</text></g>
<g><text class="n" x="450.80" y="106.91">66</text><text class="t" x="452.80" y="106.91">Cyprus</text></g>
<g><text class="n" x="450.80" y="111.70">67</text><text class="t" x="452.80" y="111.70">Czechia</text></g>
<g><text class="n" x="450.80" y="116.48">68</text><text class="t" x="452.80" y="116.48">Finland</text></g>
<g><text class="n" x="450.80" y="121.27">69</text><text class="t" x="452.80" y="121.27">France</text></g>
<g><text class="n" x="450.80" y="126.05">70</text><text class="t" x="452.80" y="126.05">Germany</text></g>
<g><text class="n" x="450.80" y="130.84">71</text><text class="t" x="452.80" y="130.84">Gibraltar</text></g>
<g><text class="n" x="450.80" y="135.62">72</text><text class="t" x="452.80" y="135.62">Greece – Athens</text></g>
<g><text class="n" x="450.80" y="140.41">73</text><text class="t" x="452.80" y="140.41">Greece – Hellenic</text></g>
<g><text class="n" x="450.80" y="145.19">74</text><text class="t" x="452.80" y="145.19">Hungary</text></g>
<g><text class="n" x="450.80" y="149.98">75</text><text class="t" x="452.80" y="149.98">Hungary Fanatics</text></g>
<g><text class="n" x="450.80" y="154.77">76</text><text class="t" x="452.80" y="154.77">Iceland</text></g>
<g><text class="n" x="515.30" y="63.85">77</text><text class="t" x="517.20" y="63.85">Italy</text></g>
<g><text class="n" x="515.30" y="68.63">78</text><text class="t" x="517.20" y="68.63">Kosova Red Devils</text></g>
<g><text class="n" x="515.30" y="73.42">79</text><text class="t" x="517.20" y="73.42">Liechtenstein Red Devils</text></g>
<g><text class="n" x="515.30" y="78.20">80</text><text class="t" x="517.20" y="78.20">Lithuania</text></g>
<g><text class="n" x="515.30" y="82.99">81</text><text class="t" x="517.20" y="82.99">Luxembourg</text></g>
<g><text class="n" x="515.30" y="87.77">82</text><text class="t" x="517.20" y="87.77">Malta</text></g>
<g><text class="n" x="515.30" y="92.56">83</text><text class="t" x="517.20" y="92.56">Netherlands – Dutch Mancunians</text></g>
<g><text class="n" x="515.30" y="97.34">84</text><text class="t" x="517.20" y="97.34">Poland</text></g>
<g><text class="n" x="515.30" y="102.13">85</text><text class="t" x="517.20" y="102.13">Romania</text></g>
<g><text class="n" x="515.30" y="106.91">86</text><text class="t" x="517.20" y="106.91">Scandinavia – Denmark</text></g>
<g><text class="n" x="515.30" y="111.70">87</text><text class="t" x="517.20" y="111.70">Scandinavia – Norway</text></g>
<g><text class="n" x="515.30" y="116.48">88</text><text class="t" x="517.20" y="116.48">Scandinavia – Sweden</text></g>
<g><text class="n" x="515.30" y="121.27">89</text><text class="t" x="517.20" y="121.27">Russia – Krasnodar Reds</text></g>
<g><text class="n" x="515.30" y="126.05">90</text><text class="t" x="517.20" y="126.05">Russia – Moscow Reds</text></g>
<g><text class="n" x="515.30" y="130.84">91</text><text class="t" x="517.20" y="130.84">Slovenia</text></g>
<g><text class="n" x="515.30" y="135.62">92</text><text class="t" x="517.20" y="135.62">Switzerland – Suisse</text></g>
<g><text class="n" x="515.30" y="140.41">93</text><text class="t" x="517.20" y="140.41">Switzerland – Swiss Devils</text></g>
<g><text class="n" x="515.30" y="145.19">94</text><text class="t" x="517.20" y="145.19">Ukraine</text></g>
<g><text class="n" x="515.30" y="149.98">95</text><text class="t" x="517.20" y="149.98">Ukraine – Kyiv Red</text></g>
<g><text class="n" x="629.20" y="65.95">96</text><text class="t" x="631.60" y="65.95">Bangladesh</text></g>
<g><text class="n" x="629.20" y="70.73">97</text><text class="t" x="631.60" y="70.73">China – Beijing</text></g>
<g><text class="n" x="629.20" y="75.52">98</text><text class="t" x="631.60" y="75.52">China – Changsha Reds</text></g>
<g><text class="n" x="629.20" y="80.30">99</text><text class="t" x="631.60" y="80.30">China – Dongguan</text></g>
<g><text class="n" x="629.20" y="85.09">100</text><text class="t" x="631.60" y="85.09">China – Foshan Reds</text></g>
<g><text class="n" x="629.20" y="89.87">101</text><text class="t" x="631.60" y="89.87">China – Guangzhou</text></g>
<g><text class="n" x="629.20" y="94.66">102</text><text class="t" x="631.60" y="94.66">China – Hangzhou</text></g>
<g><text class="n" x="629.20" y="99.44">103</text><text class="t" x="631.60" y="99.44">China – Hong Kong</text></g>
<g><text class="n" x="629.20" y="104.23">104</text><text class="t" x="631.60" y="104.23">China – Shanghai</text></g>
<g><text class="n" x="629.20" y="109.01">105</text><text class="t" x="631.60" y="109.01">China – Shenzhen</text></g>
<g><text class="n" x="629.20" y="113.80">106</text><text class="t" x="631.60" y="113.80">China – Shenzhen Red Devils</text></g>
<g><text class="n" x="629.20" y="118.58">107</text><text class="t" x="631.60" y="118.58">India – Bangalore</text></g>
<g><text class="n" x="629.20" y="123.37">108</text><text class="t" x="631.60" y="123.37">India – Chennai</text></g>
<g><text class="n" x="629.20" y="128.16">109</text><text class="t" x="631.60" y="128.16">India – Delhi NCR</text></g>
<g><text class="n" x="629.20" y="132.94">110</text><text class="t" x="631.60" y="132.94">India – Goa</text></g>
<g><text class="n" x="629.20" y="137.72">111</text><text class="t" x="631.60" y="137.72">India – Goan Red Devils</text></g>
<g><text class="n" x="629.20" y="142.51">112</text><text class="t" x="631.60" y="142.51">India – Hyderabad</text></g>
<g><text class="n" x="629.20" y="147.29">113</text><text class="t" x="631.60" y="147.29">India – Kerala</text></g>
<g><text class="n" x="629.20" y="152.08">114</text><text class="t" x="631.60" y="152.08">India – Kolkata</text></g>
<g><text class="n" x="629.20" y="156.86">115</text><text class="t" x="631.60" y="156.86">India – Mizoram</text></g>
<g><text class="n" x="629.20" y="161.65">116</text><text class="t" x="631.60" y="161.65">India – Mumbai</text></g>
<g><text class="n" x="690.70" y="65.95">117</text><text class="t" x="694.00" y="65.95">India – Nagaland</text></g>
<g><text class="n" x="690.70" y="70.73">118</text><text class="t" x="694.00" y="70.73">India – Nagpur</text></g>
<g><text class="n" x="690.70" y="75.52">119</text><text class="t" x="694.00" y="75.52">India – NCR Red Devils</text></g>
<g><text class="n" x="690.70" y="80.30">120</text><text class="t" x="694.00" y="80.30">India – New Delhi</text></g>
<g><text class="n" x="690.70" y="85.09">121</text><text class="t" x="694.00" y="85.09">India – Pune</text></g>
<g><text class="n" x="690.70" y="89.87">122</text><text class="t" x="694.00" y="89.87">Indonesia</text></g>
<g><text class="n" x="690.70" y="94.66">123</text><text class="t" x="694.00" y="94.66">Japan</text></g>
<g><text class="n" x="690.70" y="99.44">124</text><text class="t" x="694.00" y="99.44">Japan – Tokyo</text></g>
<g><text class="n" x="690.70" y="104.23">125</text><text class="t" x="694.00" y="104.23">Kazakhstan – United of Almaty</text></g>
<g><text class="n" x="690.70" y="109.01">126</text><text class="t" x="694.00" y="109.01">Malaysia</text></g>
<g><text class="n" x="690.70" y="113.80">127</text><text class="t" x="694.00" y="113.80">Malaysia Fan Club</text></g>
<g><text class="n" x="690.70" y="118.58">128</text><text class="t" x="694.00" y="118.58">Malaysia – MY Malaysia</text></g>
<g><text class="n" x="690.70" y="123.37">129</text><text class="t" x="694.00" y="123.37">Maldives</text></g>
<g><text class="n" x="690.70" y="128.16">130</text><text class="t" x="694.00" y="128.16">Maldives Glory</text></g>
<g><text class="n" x="690.70" y="132.94">131</text><text class="t" x="694.00" y="132.94">Myanmar</text></g>
<g><text class="n" x="690.70" y="137.72">132</text><text class="t" x="694.00" y="137.72">Myanmar Glory</text></g>
<g><text class="n" x="690.70" y="142.51">133</text><text class="t" x="694.00" y="142.51">Nepal</text></g>
<g><text class="n" x="690.70" y="147.29">134</text><text class="t" x="694.00" y="147.29">Pakistan</text></g>
<g><text class="n" x="690.70" y="152.08">135</text><text class="t" x="694.00" y="152.08">Singapore</text></g>
<g><text class="n" x="690.70" y="156.86">136</text><text class="t" x="694.00" y="156.86">Korea</text></g>
<g><text class="n" x="690.70" y="161.65">137</text><text class="t" x="694.00" y="161.65">Taiwan</text></g>
<g><text class="n" x="690.70" y="166.43">138</text><text class="t" x="694.00" y="166.43">Thailand</text></g>
<g><text class="n" x="690.70" y="171.22">139</text><text class="t" x="694.00" y="171.22">Vietnam</text></g>
<g class="nb"><text class="n" x="250.80" y="255.45">1</text><text class="t" x="253.40" y="255.45">Bermuda Red Devils</text></g>
<g class="nb"><text class="n" x="250.80" y="260.24">2</text><text class="t" x="253.40" y="260.24">Canada</text></g>
<g class="nb"><text class="n" x="250.80" y="265.02">3</text><text class="t" x="253.40" y="265.02">Canada – Niagara</text></g>
<g class="nb"><text class="n" x="250.80" y="269.81">4</text><text class="t" x="253.40" y="269.81">Canada – Toronto Reds</text></g>
<g class="nb"><text class="n" x="250.80" y="274.59">5</text><text class="t" x="253.40" y="274.59">Mexico</text></g>
<g class="nb"><text class="n" x="250.80" y="279.38">6</text><text class="t" x="253.40" y="279.38">USA</text></g>
<g class="nb"><text class="n" x="250.80" y="284.16">7</text><text class="t" x="253.40" y="284.16">USA – Alabama Mobile Reds</text></g>
<g class="nb"><text class="n" x="250.80" y="288.95">8</text><text class="t" x="253.40" y="288.95">USA – Atlanta</text></g>
<g class="nb"><text class="n" x="250.80" y="293.73">9</text><text class="t" x="253.40" y="293.73">USA – Austin Reds</text></g>
<g class="nb"><text class="n" x="250.80" y="298.51">10</text><text class="t" x="253.40" y="298.51">USA – Buffalo</text></g>
<g class="nb"><text class="n" x="250.80" y="303.30">11</text><text class="t" x="253.40" y="303.30">USA – Chicago</text></g>
<g class="nb"><text class="n" x="250.80" y="308.09">12</text><text class="t" x="253.40" y="308.09">USA – Cleveland</text></g>
<g class="nb"><text class="n" x="250.80" y="312.87">13</text><text class="t" x="253.40" y="312.87">USA – Dallas Reds</text></g>
<g class="nb"><text class="n" x="250.80" y="317.66">14</text><text class="t" x="253.40" y="317.66">USA – Denver</text></g>
<g class="nb"><text class="n" x="250.80" y="322.44">15</text><text class="t" x="253.40" y="322.44">USA – Detroit Red Devils</text></g>
<g class="nb"><text class="n" x="250.80" y="327.23">16</text><text class="t" x="253.40" y="327.23">USA – Houston Red Devils</text></g>
<g class="nb"><text class="n" x="250.80" y="332.01">17</text><text class="t" x="253.40" y="332.01">USA – Indianapolis</text></g>
<g class="nb"><text class="n" x="307.60" y="254.65">18</text><text class="t" x="310.60" y="254.65">USA – Indy</text></g>
<g class="nb"><text class="n" x="307.60" y="259.44">19</text><text class="t" x="310.60" y="259.44">USA – Los Angeles</text></g>
<g class="nb"><text class="n" x="307.60" y="264.22">20</text><text class="t" x="310.60" y="264.22">USA – Memphis Reds</text></g>
<g class="nb"><text class="n" x="307.60" y="269.01">21</text><text class="t" x="310.60" y="269.01">USA – Middle Tennessee</text></g>
<g class="nb"><text class="n" x="307.60" y="273.79">22</text><text class="t" x="310.60" y="273.79">USA – New Jersey Tri</text></g>
<g class="nb"><text class="n" x="307.60" y="278.58">23</text><text class="t" x="310.60" y="278.58">USA – New York Reds</text></g>
<g class="nb"><text class="n" x="307.60" y="283.36">24</text><text class="t" x="310.60" y="283.36">USA – North Texas Reds</text></g>
<g class="nb"><text class="n" x="307.60" y="288.15">25</text><text class="t" x="310.60" y="288.15">USA – Oklahoma City</text></g>
<g class="nb"><text class="n" x="307.60" y="292.93">26</text><text class="t" x="310.60" y="292.93">USA – Orlando Red Army</text></g>
<g class="nb"><text class="n" x="307.60" y="297.72">27</text><text class="t" x="310.60" y="297.72">USA – Philadelphia</text></g>
<g class="nb"><text class="n" x="307.60" y="302.50">28</text><text class="t" x="310.60" y="302.50">USA – Phoenix Red Devils</text></g>
<g class="nb"><text class="n" x="307.60" y="307.29">29</text><text class="t" x="310.60" y="307.29">USA – Pittsburgh United</text></g>
<g class="nb"><text class="n" x="307.60" y="312.07">30</text><text class="t" x="310.60" y="312.07">USA – Red Devils DC</text></g>
<g class="nb"><text class="n" x="307.60" y="316.86">31</text><text class="t" x="310.60" y="316.86">USA – San Francisco Red Army</text></g>
<g class="nb"><text class="n" x="307.60" y="321.64">32</text><text class="t" x="310.60" y="321.64">USA – San Diego</text></g>
<g class="nb"><text class="n" x="307.60" y="326.43">33</text><text class="t" x="310.60" y="326.43">USA – Seattle</text></g>
<g class="nb"><text class="n" x="307.60" y="331.21">34</text><text class="t" x="310.60" y="331.21">USA – South Carolina Red Army</text></g>
<g class="nb"><text class="n" x="150.80" y="411.45">35</text><text class="t" x="154.00" y="411.45">Brazil</text></g>
<g class="nb"><text class="n" x="150.80" y="416.24">36</text><text class="t" x="154.00" y="416.24">Peru</text></g>
<g class="nb"><text class="n" x="331.20" y="422.85">37</text><text class="t" x="334.00" y="422.85">Botswana</text></g>
<g class="nb"><text class="n" x="331.20" y="427.64">38</text><text class="t" x="334.00" y="427.64">Egypt</text></g>
<g class="nb"><text class="n" x="331.20" y="432.42">39</text><text class="t" x="334.00" y="432.42">Ghana</text></g>
<g class="nb"><text class="n" x="331.20" y="437.21">40</text><text class="t" x="334.00" y="437.21">Ghana Red Devils</text></g>
<g class="nb"><text class="n" x="331.20" y="441.99">41</text><text class="t" x="334.00" y="441.99">Ivory Coast</text></g>
<g class="nb"><text class="n" x="331.20" y="446.78">42</text><text class="t" x="334.00" y="446.78">Kenya</text></g>
<g class="nb"><text class="n" x="331.20" y="451.56">43</text><text class="t" x="334.00" y="451.56">Liberia</text></g>
<g class="nb"><text class="n" x="331.20" y="456.35">44</text><text class="t" x="334.00" y="456.35">Mauritius</text></g>
<g class="nb"><text class="n" x="331.20" y="461.13">45</text><text class="t" x="334.00" y="461.13">Mauritius Red Devils</text></g>
<g class="nb"><text class="n" x="331.20" y="465.92">46</text><text class="t" x="334.00" y="465.92">Mauritius United Army</text></g>
<g class="nb"><text class="n" x="331.20" y="470.70">47</text><text class="t" x="334.00" y="470.70">Morocco</text></g>
<g class="nb"><text class="n" x="331.20" y="475.49">48</text><text class="t" x="334.00" y="475.49">Rodrigues Island</text></g>
<g class="nb"><text class="n" x="331.20" y="480.27">49</text><text class="t" x="334.00" y="480.27">Sierra Leone</text></g>
<g class="nb"><text class="n" x="331.20" y="485.06">50</text><text class="t" x="334.00" y="485.06">South Africa</text></g>
<g class="nb"><text class="n" x="331.20" y="489.84">51</text><text class="t" x="334.00" y="489.84">South Africa – Cape Town</text></g>
<g class="nb"><text class="n" x="331.20" y="494.62">52</text><text class="t" x="334.00" y="494.62">Tanzania</text></g>
<g class="nb"><text class="n" x="331.20" y="499.41">53</text><text class="t" x="334.00" y="499.41">Togo</text></g>
<g class="nb"><text class="n" x="331.20" y="504.20">54</text><text class="t" x="334.00" y="504.20">Tunisia</text></g>
<g class="nb"><text class="n" x="331.20" y="508.98">55</text><text class="t" x="334.00" y="508.98">Zambia</text></g>
<g class="nb"><text class="n" x="331.20" y="513.76">56</text><text class="t" x="334.00" y="513.76">Zimbabwe</text></g>
<g><text class="n" x="527.80" y="378.05">140</text><text class="t" x="530.40" y="378.05">Bahrain</text></g>
<g><text class="n" x="527.80" y="382.84">141</text><text class="t" x="530.40" y="382.84">Iraq</text></g>
<g><text class="n" x="527.80" y="387.62">142</text><text class="t" x="530.40" y="387.62">Israel</text></g>
<g><text class="n" x="527.80" y="392.41">143</text><text class="t" x="530.40" y="392.41">Jordan</text></g>
<g><text class="n" x="527.80" y="397.19">144</text><text class="t" x="530.40" y="397.19">Kuwait</text></g>
<g><text class="n" x="527.80" y="401.98">145</text><text class="t" x="530.40" y="401.98">Lebanon</text></g>
<g><text class="n" x="527.80" y="406.76">146</text><text class="t" x="530.40" y="406.76">Oman</text></g>
<g><text class="n" x="527.80" y="411.55">147</text><text class="t" x="530.40" y="411.55">Qatar</text></g>
<g><text class="n" x="527.80" y="416.33">148</text><text class="t" x="530.40" y="416.33">Saudi Arabia</text></g>
<g><text class="n" x="527.80" y="421.12">149</text><text class="t" x="530.40" y="421.12">United Arab Emirates</text></g>
<g><text class="n" x="527.80" y="425.90">150</text><text class="t" x="530.40" y="425.90">UAE – Red Maniacs</text></g>
<g><text class="n" x="601.20" y="432.85">151</text><text class="t" x="604.00" y="432.85">Australia – Brisbane</text></g>
<g><text class="n" x="601.20" y="437.64">152</text><text class="t" x="604.00" y="437.64">Australia – New South Wales</text></g>
<g><text class="n" x="601.20" y="442.42">153</text><text class="t" x="604.00" y="442.42">Australia – Perth</text></g>
</svg></body></html>
